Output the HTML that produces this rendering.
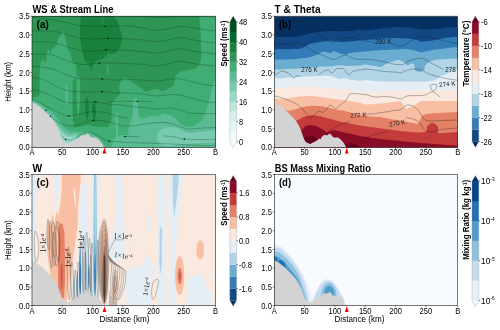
<!DOCTYPE html>
<html><head><meta charset="utf-8"><title>Cross sections</title>
<style>html,body{margin:0;padding:0;background:#fff;}svg{display:block;will-change:transform;}text{font-family:"Liberation Sans",sans-serif;fill:#000;}.t{font-size:8.6px;}.ti{font-size:11.2px;font-weight:bold;}.pl{font-size:11.2px;font-weight:bold;}.cb{font-size:8.2px;font-weight:bold;}.ax{font-size:8.4px;}.cl{font-size:5.6px;fill:#1a1a1a;}</style></head><body>
<svg width="500" height="330" viewBox="0 0 500 330">
<rect width="500" height="330" fill="#fff"/>
<defs>
<clipPath id="ca"><rect x="32.0" y="16.2" width="183.5" height="131.10000000000002"/></clipPath>
<clipPath id="cb"><rect x="274.3" y="16.2" width="183.39999999999998" height="131.10000000000002"/></clipPath>
<clipPath id="cc"><rect x="32.0" y="174.6" width="183.5" height="131.1"/></clipPath>
<clipPath id="cd"><rect x="274.3" y="174.6" width="183.39999999999998" height="131.1"/></clipPath>
</defs>
<g clip-path="url(#ca)">
<rect x="32.0" y="16.2" width="183.5" height="131.10000000000002" fill="#2d9655"/>
<rect x="30" y="14" width="188" height="135" fill="#40ad75"/>
<path d="M30,14 199,14 200,24 200.5,32 200.8,40 201.1,47.3 201.4,54.5 200.8,60.6 198.3,66.1 194.1,69.1 188,70.3 182,71.3 177.7,73.3 175.3,76.4 174.6,80 174.4,85 171,87 166,90 162,91 157,89 151,90 146,92 141,88 135,84 129,80 126,78 123,79 120.3,82.6 119,86.5 120.3,91.6 119,95.4 115.2,99.3 112.6,101.8 111.6,108 111.6,116 111,122 108,127 100,127 93,126 88,125 80,126.5 74.5,127 73,120 72.5,108 72.5,96 72.6,84 73,80 76.3,78 76.4,72 76,64.8 73.6,62.4 72,60 71.2,56 70.4,52 68.4,50.8 67.2,46 66,40.4 64.8,34.8 63.2,31.6 60.8,35.6 58.8,38 57.2,42.8 55.2,46 52.8,48.4 51.2,51.6 50.4,55 49.4,52 48.4,48.8 47.2,52 46.8,55.2 46.4,60 45.2,62.8 44,60.8 42.8,60 40.8,62.4 40,66.4 39.6,72 39.6,78 39.6,90 39.2,96 36,97.5 30,98Z" fill="#2d9655"/>
<path d="M76.8,78C77.1,74.8 78.1,75.7 78.6,76C79.1,76.3 79.7,76.8 80,80C80.3,83.2 80.3,90.3 80.2,95C80.1,99.7 79.9,104.5 79.6,108C79.3,111.5 78.6,116 78.2,116C77.8,116 77.3,111.5 77,108C76.7,104.5 76.6,100 76.6,95C76.6,90 76.5,81.2 76.8,78Z" fill="#40ad75"/>
<path d="M65.6,86C65.7,83.5 66.3,84.7 66.6,85C66.9,85.3 67.4,85.5 67.6,88C67.8,90.5 67.9,97 67.8,100C67.7,103 67.3,106 67,106C66.7,106 66.2,103.3 66,100C65.8,96.7 65.5,88.5 65.6,86Z" fill="#5abb95"/>
<path d="M81,13 80.4,24 80,32 80.4,40 81.6,48 83,55 85,61 88,63 90,67 91.6,70.4 93,65 95,62 98,60 102,59 105,57 108,53 112,54 116,53 119,49 121,44 122,38 121,32 119,26 117,21 114,17 111.6,13Z" fill="#17813d"/>
<path d="M102,15C102.2,14 103.1,14 103.3,15C103.5,16 103.3,19.4 103.2,21C103.1,22.6 102.8,24.5 102.6,24.5C102.4,24.5 102.3,22.6 102.2,21C102.1,19.4 101.8,16 102,15Z" fill="#2d9655"/>
<path d="M106.6,65C106.6,63.8 107.5,64.8 107.8,66C108.1,67.2 108.5,70.3 108.6,72C108.7,73.7 108.8,75.8 108.6,76C108.4,76.2 107.9,74.8 107.6,73C107.3,71.2 106.6,66.2 106.6,65Z" fill="#40ad75"/>
<path d="M85.4,103C85.6,100.8 86.3,96.7 86.8,96.5C87.3,96.3 88.1,99.8 88.4,102C88.7,104.2 88.8,107.5 88.8,110C88.8,112.5 88.5,115.1 88.2,117C87.9,118.9 87.5,121.7 87.2,121.5C86.9,121.3 86.5,117.9 86.2,116C85.9,114.1 85.5,112.2 85.4,110C85.3,107.8 85.2,105.2 85.4,103Z" fill="#17813d"/>
<path d="M92,107C92.3,105.1 93.2,100.7 93.8,100.5C94.4,100.3 95.2,104.1 95.6,106C96,107.9 96.1,110 96,112C95.9,114 95.5,116.4 95.2,118C94.9,119.6 94.6,121.7 94.2,121.5C93.8,121.3 93.3,118.6 93,117C92.7,115.4 92.4,113.7 92.2,112C92,110.3 91.7,108.9 92,107Z" fill="#17813d"/>
<path d="M30,99.5 36,101 42,105 48,110 51.7,111.8 56.8,117.6 60.6,122.1 64.5,127.2 68.3,130.4 72.2,131.7 76,131.7 79.8,132.3 82.4,131.7 85,132.3 87.5,131 90.1,132.3 92.6,134.2 95.2,135.5 99,138.1 101.6,140.6 104.2,144.5 105.2,147.7 30,150Z" fill="#5abb95"/>
<path d="M30,101.5 36,103.5 42,107.5 47,112 49.1,113.4 54.2,118.9 58.1,124.4 61.3,128.7 64.5,132.3 68.3,134.2 72.2,134.6 75.4,133.6 77.5,134.2 78.6,135.5 79.6,137.7 78.6,146.4 30,150Z" fill="#77c9b0"/>
<path d="M30,103 36,105 42,109 46,113 47.8,114.1 53,119.8 56.8,125.3 60,130 61.9,132.6 63.2,133.7 65.8,135.5 69.6,136.8 72.8,136.8 74.7,135.6 76,136.9 76.6,138.7 76,146.4 30,150Z" fill="#98d8c9"/>
<path d="M127,150C115,148.1 127.7,139.2 128,136C128.3,132.8 128.5,128.4 129,126C129.5,123.6 131.5,120.4 132,118C132.5,115.6 132.8,110.4 133,108C133.2,105.6 133.1,101.3 133.4,100C133.7,98.7 134.9,98 135.4,98C135.9,98 137.1,98.4 137.4,100C137.7,101.6 137.8,107.7 138,110C138.2,112.3 138.1,115.9 139,117C139.9,118.1 143.4,118.1 145,118C146.6,117.9 149.4,116.3 151,116C152.6,115.7 155.4,116.3 157,116C158.6,115.7 161.4,113.7 163,113.6C164.6,113.5 167.4,114.4 169,115C170.6,115.6 173.7,116.9 175,118C176.3,119.1 177.7,121.9 179,123C180.3,124.1 183.4,125.5 185,126C186.6,126.5 189.4,127.3 191,127C192.6,126.7 195.5,124.9 197,124C198.5,123.1 200.9,121.3 202,120C203.1,118.7 204.2,115.9 205,114C205.8,112.1 207.3,108.1 208,106C208.7,103.9 209.5,100.4 210,98C210.5,95.6 211.3,90.4 212,88C212.7,85.6 214.2,81.3 215,80C215.8,78.7 217.6,68.7 218,78C218.4,87.3 230.1,140.4 218,150C205.9,159.6 139,151.9 127,150Z" fill="#5abb95"/>
<path d="M157,139C157,137.5 157.2,134.7 158,133C158.8,131.3 160.2,130 162,129C163.8,128 166.5,127.2 169,127C171.5,126.8 174.7,127.3 177,128C179.3,128.7 180.7,130.2 183,131C185.3,131.8 188.3,132.8 191,133C193.7,133.2 196.3,132.3 199,132C201.7,131.7 203.8,131.3 207,131C210.2,130.7 216.2,128.3 218,130C219.8,131.7 220.5,138.8 218,141C215.5,143.2 207.8,142.5 203,143C198.2,143.5 193,143.7 189,144C185,144.3 182.3,144.7 179,145C175.7,145.3 171.8,146 169,146C166.2,146 163.8,145.7 162,145C160.2,144.3 158.8,143 158,142C157.2,141 157,140.5 157,139Z" fill="#77c9b0"/>
<path d="M115.6,118C115.7,114.8 116.2,113 116.6,113C117,113 117.6,114.8 117.8,118C118,121.2 118.1,128.3 118,132C117.9,135.7 117.4,140 117,140C116.6,140 116,135.7 115.8,132C115.6,128.3 115.5,121.2 115.6,118Z" fill="#5abb95"/>
<path d="M112,147.5 113,140 117,136 122,135 128,135 128,150 112,150Z" fill="#5abb95"/>
<path d="M32,17.6C34.7,17.8 42.7,18.3 48,19C53.3,19.7 58.7,20.9 64,22C69.3,23.1 73.3,24.9 80,25.6C86.7,26.3 96,26.3 104,26.4C112,26.5 121.5,25.7 128,26C134.5,26.3 138.2,27.3 143,28C147.8,28.7 152,30.4 157,30.4C162,30.4 168.7,28.7 173,28C177.3,27.3 178.7,26.2 183,26.4C187.3,26.6 193.6,28.2 199,29C204.4,29.8 212.7,30.7 215.4,31" fill="none" stroke="#0c2a14" stroke-opacity="0.75" stroke-width="0.36"/>
<path d="M32,31C34.7,31 43.7,30.8 48,31C52.3,31.2 54.7,31.3 58,32C61.3,32.7 64.3,34 68,35C71.7,36 75.7,37.3 80,38C84.3,38.7 89.3,38.9 94,39C98.7,39.1 102.3,38.4 108,38.4C113.7,38.4 122.2,38.7 128,39C133.8,39.3 138.2,39.6 143,40C147.8,40.4 152,41.8 157,41.6C162,41.4 169,39.7 173,39C177,38.3 176.7,37.3 181,37.6C185.3,37.9 193.3,40.1 199,41C204.7,41.9 212.7,42.7 215.4,43" fill="none" stroke="#0c2a14" stroke-opacity="0.75" stroke-width="0.36"/>
<path d="M32,42C34.7,42 43.7,41.7 48,42C52.3,42.3 54.7,43.2 58,44C61.3,44.8 64.3,45.9 68,47C71.7,48.1 75.7,49.7 80,50.4C84.3,51.1 89.8,51.3 94,51.2C98.2,51.1 99.3,50.1 105,50C110.7,49.9 121.7,50.1 128,50.4C134.3,50.7 138.2,51.2 143,51.6C147.8,52 152,53.3 157,53C162,52.7 169,50.7 173,50C177,49.3 176.7,48.7 181,49C185.3,49.3 193.3,51.2 199,52C204.7,52.8 212.7,53.7 215.4,54" fill="none" stroke="#0c2a14" stroke-opacity="0.75" stroke-width="0.36"/>
<path d="M32,54C34.7,54.1 43.7,53.9 48,54.4C52.3,54.9 54.7,55.9 58,57C61.3,58.1 64.7,59.8 68,61C71.3,62.2 74.7,63.4 78,64C81.3,64.6 84.5,64.6 88,64.4C91.5,64.2 95,63.2 99,63C103,62.8 107.2,62.9 112,63C116.8,63.1 122.8,63.4 128,63.6C133.2,63.8 138.2,64 143,64.4C147.8,64.8 152,66.3 157,66C162,65.7 169,63.1 173,62.4C177,61.7 176.7,61.3 181,61.6C185.3,61.9 193.3,63.7 199,64.4C204.7,65.1 212.7,65.7 215.4,66" fill="none" stroke="#0c2a14" stroke-opacity="0.75" stroke-width="0.36"/>
<path d="M32,66C34.7,66.3 43.7,67.2 48,68C52.3,68.8 54.7,69.7 58,71C61.3,72.3 64.7,74.4 68,75.6C71.3,76.8 74.7,77.8 78,78.4C81.3,79 84,78.9 88,79C92,79.1 97.3,78.8 102,79C106.7,79.2 111.7,79.9 116,80C120.3,80.1 123.5,79.6 128,79.6C132.5,79.6 138.2,79.8 143,80C147.8,80.2 152,81.2 157,81C162,80.8 169,79.3 173,79C177,78.7 177.7,78.5 181,79C184.3,79.5 188.7,81 193,82C197.3,83 203.3,84.4 207,85C210.7,85.6 214,85.5 215.4,85.6" fill="none" stroke="#0c2a14" stroke-opacity="0.75" stroke-width="0.36"/>
<path d="M32,77C34,77.5 40.3,78.7 44,80C47.7,81.3 50.7,83.4 54,85C57.3,86.6 60.7,88.5 64,89.6C67.3,90.7 70,91.2 74,91.6C78,92 83.3,92 88,92C92.7,92 97.3,91.4 102,91.6C106.7,91.8 111.7,92.8 116,93C120.3,93.2 123.5,92.8 128,93C132.5,93.2 138.2,93.5 143,94C147.8,94.5 152,95.9 157,96C162,96.1 168.7,94.4 173,94.4C177.3,94.4 179.3,95.2 183,96C186.7,96.8 191,98 195,99C199,100 203.6,101.4 207,102C210.4,102.6 214,102.3 215.4,102.4" fill="none" stroke="#0c2a14" stroke-opacity="0.75" stroke-width="0.36"/>
<path d="M32,89.6C33.7,90 38.7,90.9 42,92C45.3,93.1 48.7,94.5 52,96C55.3,97.5 58.8,99.8 62,101C65.2,102.2 67.7,102.8 71,103C74.3,103.2 77.8,102.6 82,102.4C86.2,102.2 91.7,101.7 96,102C100.3,102.3 104,103.5 108,104C112,104.5 116.7,104.7 120,105C123.3,105.3 124.2,105.6 128,106C131.8,106.4 138.2,107.1 143,107.6C147.8,108.1 152.3,108.9 157,109C161.7,109.1 166.7,107.7 171,108C175.3,108.3 180,110.2 183,111C186,111.8 185.7,112.6 189,113C192.3,113.4 198.6,113.5 203,113.6C207.4,113.7 213.3,113.6 215.4,113.6" fill="none" stroke="#0c2a14" stroke-opacity="0.75" stroke-width="0.36"/>
<path d="M32,99C33.3,99.7 37.3,101.7 40,103C42.7,104.3 45,105.4 48,107C51,108.6 54.7,110.9 58,112.4C61.3,113.9 64.7,115.7 68,116C71.3,116.3 74.7,115 78,114.4C81.3,113.8 85,112.9 88,112.4C91,111.9 92.7,111.5 96,111.6C99.3,111.7 104,112.1 108,113C112,113.9 116.7,116.2 120,117C123.3,117.8 126.7,117.8 128,118" fill="none" stroke="#0c2a14" stroke-opacity="0.75" stroke-width="0.36"/>
<path d="M49,116C50.5,117 54.8,120.3 58,122C61.2,123.7 64.7,125.5 68,126C71.3,126.5 74.7,125.8 78,125C81.3,124.2 85.3,122.3 88,121.5C90.7,120.7 91.3,120.5 94,120.4C96.7,120.3 100.7,120.6 104,121C107.3,121.4 110.8,122.2 114,123C117.2,123.8 119.5,125.6 123,126C126.5,126.4 131,126 135,125.6C139,125.2 142.3,124.1 147,123.6C151.7,123.1 158.7,122.3 163,122.4C167.3,122.5 170,123.2 173,124C176,124.8 178.3,126.2 181,127C183.7,127.8 185.3,128.8 189,129C192.7,129.2 198.6,128.2 203,128C207.4,127.8 213.3,127.7 215.4,127.6" fill="none" stroke="#0c2a14" stroke-opacity="0.75" stroke-width="0.36"/>
<path d="M61,135C61.8,135.8 64.3,138.8 66,139.6C67.7,140.4 69.3,140.3 71,140C72.7,139.7 74.2,138.6 76,137.6C77.8,136.6 80,134.9 82,134C84,133.1 85.3,131.7 88,132C90.7,132.3 94.7,134.5 98,136C101.3,137.5 104.7,140.1 108,141C111.3,141.9 114.7,141.4 118,141.6C121.3,141.8 123.8,142.2 128,142.4C132.2,142.6 137.2,142.8 143,143C148.8,143.2 156.3,143.3 163,143.6C169.7,143.9 176.3,144.3 183,144.6C189.7,144.9 197.6,145.4 203,145.6C208.4,145.8 213.3,145.6 215.4,145.6" fill="none" stroke="#0c2a14" stroke-opacity="0.75" stroke-width="0.36"/>
<path d="M32,16.2C40,16.3 64.8,16.6 80,16.6C95.2,16.6 112.5,16.2 123,16.2C133.5,16.2 136.3,16.4 143,16.6C149.7,16.8 156.3,17.5 163,17.4C169.7,17.3 174.3,16.3 183,16.2C191.7,16.1 210,16.9 215.4,17" fill="none" stroke="#0c2a14" stroke-opacity="0.75" stroke-width="0.36"/>
<path d="M109,101.6C111.3,101.5 118.3,101.2 123,101.2C127.7,101.2 132,101.4 137,101.4C142,101.4 150.3,101.4 153,101.4" fill="none" stroke="#0c2a14" stroke-opacity="0.75" stroke-width="0.36"/>
<path d="M123,136.6 139,136.6" fill="none" stroke="#0c2a14" stroke-opacity="0.75" stroke-width="0.36"/>
<path d="M163,136C164.7,136.1 169.7,136.1 173,136.6C176.3,137.1 178.7,138.5 183,139C187.3,139.5 193.6,139.5 199,139.6C204.4,139.7 212.7,139.6 215.4,139.6" fill="none" stroke="#0c2a14" stroke-opacity="0.75" stroke-width="0.36"/>
<path d="M44.7,110.4 L46.4,109.5 L46.4,111.3 Z" fill="#000"/>
<path d="M49.3,116.4 L51,115.5 L51,117.3 Z" fill="#000"/>
<path d="M104.1,26.4 L105.8,25.5 L105.8,27.3 Z" fill="#000"/>
<path d="M107.1,38.4 L108.8,37.5 L108.8,39.3 Z" fill="#000"/>
<path d="M104.6,50 L106.3,49.1 L106.3,50.9 Z" fill="#000"/>
<path d="M98.1,63 L99.8,62.1 L99.8,63.9 Z" fill="#000"/>
<path d="M101.1,79 L102.8,78.1 L102.8,79.9 Z" fill="#000"/>
<path d="M101.1,91.6 L102.8,90.7 L102.8,92.5 Z" fill="#000"/>
<path d="M94.6,102 L96.3,101.1 L96.3,102.9 Z" fill="#000"/>
<path d="M136.1,101.4 L137.8,100.5 L137.8,102.3 Z" fill="#000"/>
<path d="M67.6,116 L69.3,115.1 L69.3,116.9 Z" fill="#000"/>
<path d="M92.1,120.5 L93.8,119.6 L93.8,121.4 Z" fill="#000"/>
<path d="M64.6,139.5 L66.3,138.6 L66.3,140.4 Z" fill="#000"/>
<path d="M108.1,141.2 L109.8,140.3 L109.8,142.1 Z" fill="#000"/>
<path d="M124.1,136.6 L125.8,135.7 L125.8,137.5 Z" fill="#000"/>
<path d="M183.1,139 L184.8,138.1 L184.8,139.9 Z" fill="#000"/>
<path d="M31,149.3 32,101.7 34.5,103.3 37,104.9 39.4,106.6 41.8,108.5 44.2,110.8 46.7,113.4 50.3,117 53.9,121.1 56.6,125.7 58.8,130.7 60.6,135.9 62.2,139.9 63.6,142.1 65.8,143.3 68.2,144.1 70.1,142.7 71.9,142.1 73.7,140.9 75.5,139.7 77.3,138.4 78.5,139.3 79.2,137.2 81,135.4 82.8,134.8 84.6,135.4 86.4,134.2 87.6,133.6 88.9,134.8 90.1,136.6 92.5,137.8 94.9,137.2 97.3,138.4 99.8,140.9 101.6,143.3 103.4,146.3 103.9,147.3 103.9,149.3Z" fill="#d3d3d3"/>
</g>
<g clip-path="url(#cb)">
<rect x="274.3" y="16.2" width="183.39999999999998" height="131.10000000000002" fill="#053061"/>
<path d="M273,37C273.8,37 278,37 280,37C282,37 287.7,37.1 290,37C292.3,36.9 297.7,36.6 300,36.2C302.3,35.8 307.7,34.1 310,33.6C312.3,33.1 317.7,32.1 320,31.8C322.3,31.5 327.7,31.1 330,31C332.3,30.9 337.7,31.2 340,31.2C342.3,31.2 347.7,31.2 350,31C352.3,30.8 358.2,29.9 360,29.8C361.8,29.7 363.2,30.5 365,30.4C366.8,30.3 372.7,29.5 375,29.2C377.3,28.9 382.7,28.3 385,28C387.3,27.7 392.7,27.1 395,27C397.3,26.9 402.7,27 405,27.2C407.3,27.4 412.7,28.1 415,28.4C417.3,28.7 422.7,29.5 425,29.6C427.3,29.7 432.7,29.2 435,29C437.3,28.8 442.2,28.3 445,28C447.8,27.7 457.4,26.9 459,26.8L459.7,149.3 L272.3,149.3 Z" fill="#124984"/>
<path d="M273,49.2C273.8,49.2 278,49.2 280,49.2C282,49.2 287.7,49.2 290,49.2C292.3,49.2 298.2,49.1 300,48.8C301.8,48.5 303.8,47 305,46.4C306.2,45.8 308.2,44.5 310,44C311.8,43.5 317.7,42.4 320,42C322.3,41.6 327.7,40.8 330,40.8C332.3,40.8 337.7,41.9 340,42C342.3,42.1 347.7,41.8 350,41.6C352.3,41.4 358.2,40.4 360,40.2C361.8,40 363.2,40.1 365,40C366.8,39.9 372.7,39.4 375,39.2C377.3,39 382.7,38.7 385,38.6C387.3,38.5 392.7,38 395,38C397.3,38 402.7,38.4 405,38.6C407.3,38.8 413.1,39.2 415,39.6C416.9,40 419.8,41.4 421,41.6C422.2,41.8 423.4,41.8 425,41.6C426.6,41.4 432.7,40.4 435,40C437.3,39.6 442.2,38.4 445,38C447.8,37.6 457.4,36.6 459,36.4L459.7,149.3 L272.3,149.3 Z" fill="#327cb7"/>
<path d="M273,59.4C273.8,59.4 278,59.6 280,59.6C282,59.6 287.7,59.3 290,59.2C292.3,59.1 297.7,58.6 300,58.4C302.3,58.2 308.1,57.6 310,57.2C311.9,56.8 314.8,55.5 316,55C317.2,54.5 319.1,53.4 320,53C320.9,52.6 322.8,51.6 324,51.6C325.2,51.6 328.8,53 330,53C331.2,53 332.8,51.1 334,51.2C335.2,51.3 338.6,53.2 340,53.6C341.4,54 344.8,54.5 346,54.4C347.2,54.3 348.4,53.3 350,53C351.6,52.7 358.2,52.2 360,52C361.8,51.8 363.2,51.8 365,51.6C366.8,51.4 372.7,50.8 375,50.6C377.3,50.4 382.7,50.1 385,50C387.3,49.9 392.7,49.5 395,49.4C397.3,49.3 402.7,48.9 405,49C407.3,49.1 413.1,50 415,50.4C416.9,50.8 419.8,52.3 421,52.4C422.2,52.5 423.4,51.9 425,51.6C426.6,51.3 432.7,50 435,49.6C437.3,49.2 442.2,48.7 445,48.4C447.8,48.1 457.4,47.2 459,47L459.7,149.3 L272.3,149.3 Z" fill="#6bacd1"/>
<path d="M273,69.4C273.8,69.4 278,69.7 280,69.6C282,69.5 287.7,68.9 290,68.8C292.3,68.7 297.7,68.5 300,68.4C302.3,68.3 307.7,67.8 310,67.6C312.3,67.4 317.7,66.7 320,66.6C322.3,66.5 327.7,66.6 330,66.4C332.3,66.2 337.7,65.2 340,65.2C342.3,65.2 347.7,66 350,66C352.3,66 358.2,65.8 360,65.6C361.8,65.4 363.2,64.4 365,64.4C366.8,64.4 373.1,65.7 375,66C376.9,66.3 379.8,67.2 381,67C382.2,66.8 383.8,65 385,64.4C386.2,63.8 389.4,62.5 391,62C392.6,61.5 397.4,59.9 399,60C400.6,60.1 403.9,62.3 405,63C406.1,63.7 407.3,65.5 408,65.6C408.7,65.7 410.3,63.7 411,63.6C411.7,63.5 413.5,63.7 414,64.4C414.5,65.1 414.4,69.1 415,70C415.6,70.9 417.9,72 419,72C420.1,72 423.3,70.7 424,70C424.7,69.3 424.4,66.9 425,66C425.6,65.1 427.8,62.7 429,62C430.2,61.3 433.1,60.4 435,60C436.9,59.6 442.2,59.2 445,59C447.8,58.8 457.4,58.5 459,58.4L459.7,149.3 L272.3,149.3 Z" fill="#b1d5e7"/>
<path d="M273,78C273.8,78 278,78.4 280,78.4C282,78.4 287.7,77.8 290,77.6C292.3,77.4 297.7,77.1 300,77C302.3,76.9 307.7,76.5 310,76.4C312.3,76.3 317.7,76 320,76C322.3,76 327.7,75.7 330,76C332.3,76.3 338.1,78.8 340,79C341.9,79.2 344.8,77.9 346,78C347.2,78.1 348.4,79.2 350,79.6C351.6,79.9 358.2,81 360,81C361.8,81 363.2,80 365,80C366.8,80 372.7,80.8 375,81C377.3,81.2 382.7,81.5 385,81.6C387.3,81.7 392.7,81.6 395,81.6C397.3,81.6 402.7,81.6 405,81.6C407.3,81.6 412.7,81.6 415,81.6C417.3,81.6 422.7,81.8 425,81.6C427.3,81.4 433.1,80.7 435,80C436.9,79.3 439.8,76.6 441,76C442.2,75.4 443.8,75.5 445,75C446.2,74.5 449.4,72.7 451,72C452.6,71.3 458.1,69.3 459,69L459.7,149.3 L272.3,149.3 Z" fill="#e4eef4"/>
<path d="M273,88.4C273.8,88.4 278,88.2 280,88C282,87.8 287.7,87.2 290,87C292.3,86.8 297.7,86.6 300,86.6C302.3,86.6 307.7,86.9 310,87C312.3,87.1 317.7,87.4 320,87.6C322.3,87.8 327.7,88.2 330,88.4C332.3,88.6 337.7,88.8 340,89C342.3,89.2 347.7,90.1 350,90.4C352.3,90.8 358.2,91.7 360,92C361.8,92.3 363.2,93 365,93C366.8,93 372.7,92.2 375,92C377.3,91.8 382.7,91.1 385,91C387.3,90.9 392.7,91 395,91C397.3,91 402.7,91 405,91C407.3,91 412.7,91.1 415,91C417.3,90.9 422.7,90.5 425,90.4C427.3,90.3 432.7,90 435,90C437.3,90 442.2,90 445,90C447.8,90 457.4,89.6 459,89.6L459.7,149.3 L272.3,149.3 Z" fill="#fae9df"/>
<path d="M273,98C273.8,98.1 278,99 280,99C282,99 287.7,98.3 290,98C292.3,97.7 297.7,96.8 300,96.6C302.3,96.4 307.7,96 310,96C312.3,96 317.7,96.7 320,97C322.3,97.3 327.7,98.1 330,98.4C332.3,98.7 337.7,99.3 340,99.6C342.3,99.9 347.7,100.6 350,101C352.3,101.4 358.2,102.6 360,103C361.8,103.4 363.2,104.3 365,104.4C366.8,104.5 372.7,104.2 375,104C377.3,103.8 382.7,103.2 385,103C387.3,102.8 393.2,102.2 395,102C396.8,101.8 399.1,100.7 400,101C400.9,101.3 402.4,104.2 403,105C403.6,105.8 404.5,107.1 405,107.6C405.5,108.1 406.5,109 407,109C407.5,109 408.3,107.9 409,107.6C409.7,107.2 412.1,106.5 413,106C413.9,105.5 416.1,104.2 417,103.6C417.9,103 420.1,101.3 421,101C421.9,100.7 423.4,101 425,101C426.6,101 432.7,101 435,101C437.3,101 442.2,101 445,101C447.8,101 457.4,101 459,101L459.7,149.3 L272.3,149.3 Z" fill="#f8bfa4"/>
<path d="M272,104C272.9,104.3 278.1,106.2 280,107C281.9,107.8 287.1,110.3 288.5,110.7C289.9,111.1 291,110.4 292.1,110.1C293.2,109.8 296.8,108.7 298.2,108.3C299.6,107.9 302.8,107 304.2,106.7C305.6,106.4 308.9,106 310.3,105.9C311.7,105.8 315,105.9 316.4,105.9C317.8,105.9 321,106 322.4,106.2C323.8,106.4 327.1,107.4 328.5,107.7C329.9,108 333.2,108.9 334.5,109.2C335.8,109.5 338.2,109.7 340,110.1C341.8,110.5 347.7,111.8 350,112.4C352.3,113 357.7,114.5 360,115C362.3,115.5 367.7,116.2 370,116.4C372.3,116.6 377.7,116.7 380,117C382.3,117.3 387.7,118.6 390,119C392.3,119.4 397.7,120 400,120.4C402.3,120.8 407.9,122 410,122.4C412.1,122.8 416.8,123.9 418,123.6C419.2,123.3 419.4,121 420,120C420.6,119 421.8,115.7 423,115C424.2,114.3 428,113.8 430,113.6C432,113.4 436.6,113.2 440,113C443.4,112.8 456.8,112.1 459,112L459.7,149.3 L272.3,149.3 Z" fill="#e48066"/>
<path d="M290,116C290.8,116.5 295.8,120.1 297,120.4C298.2,120.7 299.8,119 300.6,118.6C301.4,118.2 303.2,117.1 304.2,116.8C305.2,116.5 308,115.8 309.1,115.6C310.2,115.4 312.8,115.2 313.9,115.2C315,115.2 317.7,115.7 318.8,115.9C319.9,116.1 322.5,116.9 323.6,117.2C324.7,117.5 327.4,118.3 328.5,118.6C329.6,118.9 332,119.5 333.3,119.8C334.6,120.1 338.1,121 340,121.4C341.9,121.8 347.7,122.9 350,123.4C352.3,123.9 357.7,125 360,125.4C362.3,125.8 367.7,126.7 370,127C372.3,127.3 377.7,127.9 380,128.2C382.3,128.5 387.7,129.3 390,129.6C392.3,129.9 397.7,130.7 400,131C402.3,131.3 407.7,131.8 410,132C412.3,132.2 418.1,132.5 420,132.4C421.9,132.3 425.6,132.1 426.4,131.5C427.2,130.9 426.6,127.9 427,127C427.4,126.1 428.9,124.5 429.5,124C430.1,123.5 431.7,123 432.4,123C433.1,123 434.8,123.5 435.5,124C436.2,124.5 437.7,126 438,127C438.3,128.1 437.6,132.3 438.4,133C439.2,133.7 442.6,133.1 445,133C447.4,132.9 457.4,132.1 459,132L459.7,149.3 L272.3,149.3 Z" fill="#c43b3c"/>
<path d="M299,131C299.4,130.8 301.8,130 302.4,129.5C303,129 303.6,127.6 304.2,127.1C304.8,126.6 306.4,125.9 307.3,125.6C308.2,125.3 310.4,124.8 311.5,124.9C312.6,125 315.4,125.7 316.4,126.1C317.4,126.5 319.2,127.6 320,128.1C320.8,128.6 322.8,129.6 323.6,130.1C324.4,130.6 326.1,132.2 326.7,132.4C327.3,132.6 327.9,131.8 328.5,131.6C329.1,131.4 331.2,130.7 332.1,130.6C333,130.5 334.9,130.3 335.8,130.4C336.7,130.5 338.3,131 340,131.4C341.7,131.8 347.7,133.1 350,133.6C352.3,134.1 356.5,135.4 360,136C363.5,136.6 375.3,138.4 380,139C384.7,139.6 395.3,140.5 400,141C404.7,141.5 415.3,142.6 420,143C424.7,143.4 435.4,144.1 440,144.4C444.6,144.7 456.8,145.5 459,145.6L459.7,149.3 L272.3,149.3 Z" fill="#8a0b25"/>
<path d="M304.4,139C304.6,137.7 305.3,137.5 306,137C306.7,136.5 307.5,136.2 308.5,136C309.5,135.8 310.8,135.8 312,136C313.2,136.2 314.6,136.7 315.5,137.4C316.4,138.1 317.4,138.9 317.6,140C317.8,141.1 317.6,142.8 316.5,144C315.4,145.2 312.9,146.8 311,147C309.1,147.2 306.1,146.3 305,145C303.9,143.7 304.2,140.3 304.4,139Z" fill="#67001f"/>
<path d="M342.5,148C340,147.4 343.9,145.2 345,144.4C346.1,143.6 347.5,143.1 349,143C350.5,142.9 352.5,143.1 354,143.6C355.5,144.1 357,145.3 358,146C359,146.7 362.6,147.7 360,148C357.4,148.3 345,148.6 342.5,148Z" fill="#67001f"/>
<path d="M273.6,21C274.7,20.9 279.8,20.5 282,20.4C284.2,20.3 287.9,19.9 290,20C292.1,20.1 296.1,20.7 298,21C299.9,21.3 302.4,21.2 304,22C305.6,22.8 308.4,25.7 310,27C311.6,28.3 314.4,30.7 316,32C317.6,33.3 320.4,35.8 322,37C323.6,38.2 326.4,40.3 328,41C329.6,41.7 332.4,42.5 334,42C335.6,41.5 338.9,37.3 340,37C341.1,36.7 340.9,39.9 342,40C343.1,40.1 346.4,37.9 348,37.6C349.6,37.3 352.4,37.7 354,38C355.6,38.3 357.9,39.5 360,40C362.1,40.5 368.4,41.3 370,41.6C371.6,41.9 371.4,41.9 372,42C372.6,42.1 374.3,42.3 374.6,42.4" fill="none" stroke="#1c1c1c" stroke-width="0.38" stroke-opacity="0.85"/>
<path d="M390.6,43.4C391.2,43.6 393.6,44.6 395,45C396.4,45.4 399.1,46.8 401,46.4C402.9,46 406.9,43.1 409,42C411.1,40.9 415,38.8 417,38C419,37.2 422.1,36.1 424,36C425.9,35.9 428.2,36.9 431,37.6C433.8,38.3 441.3,40.1 445,41C448.7,41.9 457.1,43.6 459,44" fill="none" stroke="#1c1c1c" stroke-width="0.38" stroke-opacity="0.85"/>
<path d="M273.6,44C275.8,44 287,44.1 290,44C293,43.9 294.1,42.9 296,43C297.9,43.1 302.1,44.2 304,45C305.9,45.8 308.4,47.9 310,49C311.6,50.1 314.4,52.2 316,53C317.6,53.8 320.4,54.4 322,55C323.6,55.6 326.4,57 328,57.6C329.6,58.2 332.4,59.7 334,59.6C335.6,59.5 338.4,57.6 340,57C341.6,56.4 344.7,55 346,55C347.3,55 348.7,56.5 350,57C351.3,57.5 354.1,58.7 356,59C357.9,59.3 362.8,59.6 364,59.6C365.2,59.6 363.5,58.9 365,59C366.5,59.1 372.3,59.6 375,60C377.7,60.4 382.3,61.4 385,62C387.7,62.6 392.6,64.1 395,64.4C397.4,64.7 401.3,64.8 403,64.4C404.7,64 406.7,62.2 408,61.6C409.3,61 411,60 413,59.6C415,59.2 420.6,57.9 423,58.4C425.4,58.9 428.9,61.9 431,63C433.1,64.1 437.3,66.1 439,67C440.7,67.9 443,69.3 443.6,69.6" fill="none" stroke="#1c1c1c" stroke-width="0.38" stroke-opacity="0.85"/>
<path d="M273.6,75.6C274.2,75.3 276.9,73.6 278,73C279.1,72.4 280.7,71 282,71C283.3,71 286.7,72.3 288,73C289.3,73.7 291.2,75.3 292,76C292.8,76.7 293.5,78.5 294,78.4C294.5,78.3 295.3,75.9 296,75.6C296.7,75.3 299.1,76.3 299.6,76.4" fill="none" stroke="#1c1c1c" stroke-width="0.38" stroke-opacity="0.85"/>
<path d="M318.8,74.4C319.1,74.2 320.3,73.5 321,73C321.7,72.5 323.1,71.4 324,71C324.9,70.6 326.9,69.7 328,70C329.1,70.3 330.9,73.1 332,73C333.1,72.9 334.9,69.6 336,69C337.1,68.4 338.9,68.4 340,68.4C341.1,68.4 343.2,68.5 344,69C344.8,69.5 345.3,71.2 346,72C346.7,72.8 348.2,75 349,75C349.8,75 350.8,72.7 352,72C353.2,71.3 356.4,70.3 358,70C359.6,69.7 363.1,69.7 364,69.6C364.9,69.5 363.5,68.9 365,69C366.5,69.1 372.3,69.7 375,70C377.7,70.3 382.3,71.3 385,71.6C387.7,71.9 392.9,71.8 395,72C397.1,72.2 399.7,73.1 401,73C402.3,72.9 403.4,71.5 405,71C406.6,70.5 410.9,69.1 413,69C415.1,68.9 418.9,69.3 421,70C423.1,70.7 426.9,73.1 429,74C431.1,74.9 435,75.9 437,76.4C439,76.9 442.4,77.7 444,78C445.6,78.3 447,78.7 449,79C451,79.3 457.7,80.2 459,80.4" fill="none" stroke="#1c1c1c" stroke-width="0.38" stroke-opacity="0.85"/>
<path d="M273.6,95.6C274.7,95.9 279.8,97.3 282,98C284.2,98.7 287.9,100.1 290,101C292.1,101.9 296.1,103.7 298,105C299.9,106.3 302.7,109.5 304,111C305.3,112.5 307.1,115.1 308,116C308.9,116.9 310.1,117.9 311,117.6C311.9,117.3 313.9,114.9 315,114C316.1,113.1 317.9,111.2 319,111C320.1,110.8 321.9,112.7 323,112.4C324.1,112.1 326.1,110 327,109C327.9,108 329.2,105.3 330,105C330.8,104.7 332.2,106.5 333,107C333.8,107.5 335.1,109.3 336,109C336.9,108.7 338.8,106.1 340,105C341.2,103.9 343.9,102.1 345,101C346.1,99.9 347.3,97.9 348,97C348.7,96.1 348.9,94.5 350,94C351.1,93.5 354.1,93.5 356,93.6C357.9,93.7 362.8,94.3 364,94.4C365.2,94.5 363.5,94.1 365,94.4C366.5,94.7 372.3,96.7 375,97C377.7,97.3 382.3,96.3 385,96.4C387.7,96.5 392.9,97.3 395,97.6C397.1,97.9 399.4,99.2 401,99C402.6,98.8 404.6,96.5 407,96C409.4,95.5 416.6,95.7 419,95.6C421.4,95.5 423.4,95.5 425,95C426.6,94.5 429.8,92.3 431,92C432.2,91.7 432.8,91.7 434,92.4C435.2,93.1 439.2,96.4 440,97" fill="none" stroke="#1c1c1c" stroke-width="0.38" stroke-opacity="0.85"/>
<path d="M431,84.8C431.7,84.5 435.5,84.1 436.2,84.4C436.9,84.7 436.8,86.3 436.6,87C436.4,87.7 435.5,89.5 435,90C434.5,90.5 433.5,91.1 433,91C432.5,90.9 431.7,89.8 431.4,89.2C431.1,88.6 430.7,87.4 430.6,86.8C430.5,86.2 430.3,85.1 431,84.8Z" fill="none" stroke="#1c1c1c" stroke-width="0.38" stroke-opacity="0.85"/>
<path d="M326.4,133.6C326.9,133.1 328.7,130.9 330,130C331.3,129.1 334.4,127.8 336,127C337.6,126.2 340.1,124.7 342,124C343.9,123.3 348.9,121.9 350,121.6" fill="none" stroke="#1c1c1c" stroke-width="0.38" stroke-opacity="0.85"/>
<path d="M363.4,114.4C364.9,114.3 372.1,113.9 375,113.6C377.9,113.3 382.3,112.4 385,112C387.7,111.6 392.9,110.7 395,110.4C397.1,110.1 399.7,110.2 401,109.6C402.3,109 404.1,106.6 405,106C405.9,105.4 406.9,105 408,105C409.1,105 411.7,105.3 413,106C414.3,106.7 416.8,108.7 418,110C419.2,111.3 421.1,114.7 422,116C422.9,117.3 424.1,119.3 425,120C425.9,120.7 426.3,120.9 429,121C431.7,121.1 441,120.5 445,120.4C449,120.3 457.1,120.1 459,120" fill="none" stroke="#1c1c1c" stroke-width="0.38" stroke-opacity="0.85"/>
<path d="M361,139.6C361.5,139.3 364.5,137.8 365,137.6C365.5,137.4 363.9,138.3 365,138C366.1,137.7 370.9,135.7 373,135C375.1,134.3 379.1,133.5 381,133C382.9,132.5 386.5,131.4 387.4,131.2" fill="none" stroke="#1c1c1c" stroke-width="0.38" stroke-opacity="0.85"/>
<path d="M406,117.6C406.9,117.8 411.3,118.4 413,119C414.7,119.6 417.7,120.8 419,122C420.3,123.2 422.1,126.8 423,128C423.9,129.2 424.7,130.5 426,131C427.3,131.5 431.4,132.1 433,132C434.6,131.9 436.4,130.4 438,130C439.6,129.6 442.2,129.3 445,129C447.8,128.7 457.1,128.1 459,128" fill="none" stroke="#1c1c1c" stroke-width="0.38" stroke-opacity="0.85"/>
<text transform="translate(383.3,44.4) rotate(0)" class="cl" style="font-size:6.3px" text-anchor="middle">280 K</text>
<text transform="translate(450.5,72.2) rotate(0)" class="cl" style="font-size:6.3px" text-anchor="middle">278</text>
<text transform="translate(309.5,72.4) rotate(0)" class="cl" style="font-size:6.3px" text-anchor="middle">276 K</text>
<text transform="translate(447.5,86.2) rotate(-6)" class="cl" style="font-size:6.3px" text-anchor="middle">274 K</text>
<text transform="translate(358.6,117.2) rotate(-4)" class="cl" style="font-size:6.3px" text-anchor="middle">272 K</text>
<text transform="translate(397.6,125.2) rotate(-10)" class="cl" style="font-size:6.3px" text-anchor="middle">270 K</text>
<path d="M273.3,149.3 274.3,101.7 276.8,103.3 279.3,104.9 281.7,106.6 284.1,108.5 286.5,110.8 289,113.4 292.6,117 296.2,121.1 298.9,125.7 301.1,130.7 302.9,135.9 304.5,139.9 305.9,142.1 308.1,143.3 310.5,144.1 312.4,142.7 314.2,142.1 316,140.9 317.8,139.7 319.6,138.4 320.8,139.3 321.5,137.2 323.3,135.4 325.1,134.8 326.9,135.4 328.7,134.2 329.9,133.6 331.2,134.8 332.4,136.6 334.8,137.8 337.2,137.2 339.6,138.4 342.1,140.9 343.9,143.3 345.7,146.3 346.2,147.3 346.2,149.3Z" fill="#d3d3d3"/>
</g>
<g clip-path="url(#cc)">
<rect x="32.0" y="174.6" width="183.5" height="131.1" fill="#fae9df"/>
<path d="M31,173 38,173 37.2,191 36.4,211 35.6,237 35,262 31,262Z" fill="#e4eef4"/>
<path d="M53,173 60,173 59.6,183 58.4,195 57.2,205 56.2,209.4 55.2,205 54,193 53.2,183Z" fill="#e4eef4"/>
<path d="M115.3,173 121.7,173 122.5,195 124.5,225 125,245 124,256 120,261 113,260 109,256 108,248 111,236 114.6,225 115.2,200Z" fill="#e4eef4"/>
<path d="M81,186 84,183 87,186 88,200 88.5,230 90,260 91,300 78,300 78,270 79,240 79.6,210Z" fill="#e4eef4"/>
<path d="M91.6,173 99,173 98.6,200 98.4,230 98,260 98,300 90,300 90.5,260 91,230 91.4,200Z" fill="#e4eef4"/>
<path d="M158.6,173 157.8,187 157.4,201 157,221 157.4,237 157.4,239 157,259 157.4,285 158,285 158.2,305.4 165.8,305.4 166,285 166,285 166,259 165.4,239 164.6,237 166,221 166.6,201 166.2,187 165.4,173Z" fill="#e4eef4"/>
<path d="M169.4,173 168.6,201 169,221 170,237 170.2,239 170.6,259 169.8,285 169,285 169,305.4 175.4,305.4 175.4,285 175.4,285 175.4,259 176.6,239 177,237 177.4,227 179,211 181,191 183,173Z" fill="#e4eef4"/>
<path d="M172.6,173 179,173 178,187 176,205 174,217.4 173,205 172.6,187Z" fill="#b1d5e7"/>
<path d="M159.8,229C160,225.3 160.3,226.7 160.6,227C160.9,227.3 161.4,227.3 161.6,231C161.8,234.7 161.8,243.3 161.8,249C161.8,254.7 161.6,260.9 161.4,265C161.2,269.1 160.9,273.4 160.6,273.4C160.3,273.4 160,269.1 159.8,265C159.6,260.9 159.6,255 159.6,249C159.6,243 159.6,232.7 159.8,229Z" fill="#b1d5e7"/>
<path d="M159.6,255C159.9,253.3 161.1,253.7 161.4,255C161.7,256.3 161.7,260.3 161.6,263C161.5,265.7 161.2,269.3 161,271C160.8,272.7 160.4,274 160.2,273C160,272 159.7,268 159.6,265C159.5,262 159.3,256.7 159.6,255Z" fill="#b1d5e7"/>
<path d="M160.2,230C160.4,228.4 161.1,228.4 161.4,228.6C161.7,228.8 162.1,229.4 162.2,231C162.3,232.6 162.3,236.8 162,238C161.7,239.2 160.5,239.3 160.2,238C159.9,236.7 160,231.6 160.2,230Z" fill="#b1d5e7"/>
<path d="M147.4,214C147.5,211.4 147.9,213.2 148.2,213.4C148.5,213.6 148.9,212.4 149,215C149.1,217.6 149.1,225.9 149,229C148.9,232.1 148.5,233.4 148.2,233.4C147.9,233.4 147.5,232.2 147.4,229C147.3,225.8 147.3,216.6 147.4,214Z" fill="#e4eef4"/>
<path d="M133,238C133.2,236.8 133.7,236.6 134,236.6C134.3,236.6 134.8,236.8 135,238C135.2,239.2 135.2,242.6 135,244C134.8,245.4 134.3,246.4 134,246.4C133.7,246.4 133.2,245.4 133,244C132.8,242.6 132.8,239.2 133,238Z" fill="#e4eef4"/>
<path d="M125.8,271.4 127.4,269 132,267.4 137,267.6 142,265 145,259.4 148,252.6 150,259 153,266.6 154.6,271.4 153,276 151.4,282 151,307 126,307 125.6,285Z" fill="#e4eef4"/>
<path d="M187,305.4 187.4,285 189,276 195,274.6 203,275.4 205.4,283 208,289.4 211,292 211,305.4Z" fill="#e4eef4"/>
<path d="M207,277.4C207.1,276.9 208.3,276.6 209,276.6C209.7,276.6 210.7,277 211,277.4C211.3,277.8 211,278.7 210.6,279C210.2,279.3 209.2,279.7 208.6,279.4C208,279.1 206.9,277.9 207,277.4Z" fill="#e4eef4"/>
<path d="M62,173 61.6,191 60,207 58,216 56.4,211 54.4,223.4 52.4,213 50,227.4 48,219 46.4,238 47,239 47.2,251 48,259 50,271 50,290 66,303 67,298 68,289 69,275 70,285 71,271 73,259 75,245 77,231 78,219 77.2,219 78,212 78.6,201 79.6,191 80.4,183 81,173Z" fill="#f8bfa4"/>
<path d="M73.4,190.2C73.4,188.6 74.1,187.8 74.4,188.6C74.7,189.4 75.1,192.6 75.4,195C75.7,197.4 75.9,200.7 76,203C76.1,205.3 76.3,208.6 76.2,209C76.1,209.4 75.5,207.2 75.2,205.4C74.9,203.6 74.5,200.5 74.2,198C73.9,195.5 73.4,191.8 73.4,190.2Z" fill="#fae9df"/>
<path d="M58.4,228 60,223 62.5,224 64.4,232 65,255 65,280 64,298 58,298 58,280 58,255Z" fill="#e48066"/>
<path d="M60.6,268C60.8,265.8 61.2,263 61.5,263C61.8,263 62.4,265.8 62.6,268C62.8,270.2 62.8,273 62.8,276C62.8,279 62.5,283.7 62.3,286C62.1,288.3 61.8,290.3 61.5,290C61.2,289.7 61,286.3 60.8,284C60.6,281.7 60.5,278.7 60.5,276C60.5,273.3 60.4,270.2 60.6,268Z" fill="#d4574a"/>
<path d="M80.2,246C80.1,247.1 79.7,250.2 79.5,252.4C79.4,254.5 79.3,256.6 79.2,258.8C79.1,260.9 79.1,263 79.1,265.1C79,267.2 79,269.4 79,271.5C79,273.6 79,275.8 79.1,277.9C79.1,280 79.1,282.1 79.2,284.2C79.3,286.4 79.4,288.5 79.5,290.6C79.7,292.8 80.1,295.9 80.2,297C80.3,298.1 80.1,298.1 80.2,297C80.3,295.9 80.7,292.8 80.9,290.6C81,288.5 81.1,286.4 81.2,284.2C81.3,282.1 81.3,280 81.3,277.9C81.4,275.8 81.4,273.6 81.4,271.5C81.4,269.4 81.4,267.2 81.3,265.1C81.3,263 81.3,260.9 81.2,258.8C81.1,256.6 81,254.5 80.9,252.4C80.7,250.2 80.3,247.1 80.2,246C80.1,244.9 80.3,244.9 80.2,246Z" fill="#6bacd1"/>
<path d="M80.4,262C80.3,262.7 80.1,264.7 80,266C79.9,267.3 79.9,268.7 79.8,270C79.8,271.3 79.8,272.7 79.7,274C79.7,275.3 79.7,276.7 79.7,278C79.7,279.3 79.7,280.7 79.7,282C79.8,283.3 79.8,284.7 79.8,286C79.9,287.3 79.9,288.7 80,290C80.1,291.3 80.3,293.3 80.4,294C80.5,294.7 80.3,294.7 80.4,294C80.5,293.3 80.7,291.3 80.8,290C80.9,288.7 80.9,287.3 81,286C81,284.7 81,283.3 81.1,282C81.1,280.7 81.1,279.3 81.1,278C81.1,276.7 81.1,275.3 81.1,274C81,272.7 81,271.3 81,270C80.9,268.7 80.9,267.3 80.8,266C80.7,264.7 80.5,262.7 80.4,262C80.3,261.3 80.5,261.3 80.4,262Z" fill="#327cb7"/>
<path d="M74,275C73.9,275.6 73.5,277.2 73.3,278.4C73.2,279.5 73.1,280.6 73,281.8C72.9,282.9 72.9,284 72.9,285.1C72.8,286.2 72.8,287.4 72.8,288.5C72.8,289.6 72.8,290.8 72.9,291.9C72.9,293 72.9,294.1 73,295.2C73.1,296.4 73.2,297.5 73.3,298.6C73.5,299.8 73.9,301.4 74,302C74.1,302.6 73.9,302.6 74,302C74.1,301.4 74.5,299.8 74.7,298.6C74.8,297.5 74.9,296.4 75,295.2C75.1,294.1 75.1,293 75.1,291.9C75.2,290.8 75.2,289.6 75.2,288.5C75.2,287.4 75.2,286.2 75.1,285.1C75.1,284 75.1,282.9 75,281.8C74.9,280.6 74.8,279.5 74.7,278.4C74.5,277.2 74.1,275.6 74,275C73.9,274.4 74.1,274.4 74,275Z" fill="#b1d5e7"/>
<path d="M77.4,270C77.3,270.6 77,272.5 76.9,273.8C76.8,275 76.7,276.2 76.7,277.5C76.6,278.8 76.6,280 76.5,281.2C76.5,282.5 76.5,283.8 76.5,285C76.5,286.2 76.5,287.5 76.5,288.8C76.6,290 76.6,291.2 76.7,292.5C76.7,293.8 76.8,295 76.9,296.2C77,297.5 77.3,299.4 77.4,300C77.5,300.6 77.3,300.6 77.4,300C77.5,299.4 77.8,297.5 77.9,296.2C78,295 78.1,293.8 78.1,292.5C78.2,291.2 78.2,290 78.3,288.8C78.3,287.5 78.3,286.2 78.3,285C78.3,283.8 78.3,282.5 78.3,281.2C78.2,280 78.2,278.8 78.1,277.5C78.1,276.2 78,275 77.9,273.8C77.8,272.5 77.5,270.6 77.4,270C77.3,269.4 77.5,269.4 77.4,270Z" fill="#6bacd1"/>
<path d="M89,264C88.9,264.5 88.5,266.2 88.4,267.2C88.2,268.3 88.2,269.4 88.1,270.5C88,271.6 88,272.7 88,273.8C87.9,274.8 87.9,275.9 87.9,277C87.9,278.1 87.9,279.2 88,280.2C88,281.3 88,282.4 88.1,283.5C88.2,284.6 88.2,285.7 88.4,286.8C88.5,287.8 88.9,289.5 89,290C89.1,290.5 88.9,290.5 89,290C89.1,289.5 89.5,287.8 89.6,286.8C89.8,285.7 89.8,284.6 89.9,283.5C90,282.4 90,281.3 90,280.2C90.1,279.2 90.1,278.1 90.1,277C90.1,275.9 90.1,274.8 90,273.8C90,272.7 90,271.6 89.9,270.5C89.8,269.4 89.8,268.3 89.6,267.2C89.5,266.2 89.1,264.5 89,264C88.9,263.5 89.1,263.5 89,264Z" fill="#6bacd1"/>
<path d="M86.2,250C86.1,250.9 85.9,253.5 85.8,255.2C85.6,257 85.6,258.8 85.6,260.5C85.5,262.2 85.5,264 85.4,265.8C85.4,267.5 85.4,269.2 85.4,271C85.4,272.8 85.4,274.5 85.4,276.2C85.5,278 85.5,279.8 85.6,281.5C85.6,283.2 85.6,285 85.8,286.8C85.9,288.5 86.1,291.1 86.2,292C86.3,292.9 86.1,292.9 86.2,292C86.3,291.1 86.5,288.5 86.6,286.8C86.8,285 86.8,283.2 86.8,281.5C86.9,279.8 86.9,278 87,276.2C87,274.5 87,272.8 87,271C87,269.2 87,267.5 87,265.8C86.9,264 86.9,262.2 86.8,260.5C86.8,258.8 86.8,257 86.6,255.2C86.5,253.5 86.3,250.9 86.2,250C86.1,249.1 86.3,249.1 86.2,250Z" fill="#b1d5e7"/>
<path d="M83.6,252C83.5,252.9 83.3,255.7 83.2,257.5C83,259.3 83,261.2 83,263C82.9,264.8 82.9,266.7 82.8,268.5C82.8,270.3 82.8,272.2 82.8,274C82.8,275.8 82.8,277.7 82.8,279.5C82.9,281.3 82.9,283.2 83,285C83,286.8 83,288.7 83.2,290.5C83.3,292.3 83.5,295.1 83.6,296C83.7,296.9 83.5,296.9 83.6,296C83.7,295.1 83.9,292.3 84,290.5C84.2,288.7 84.2,286.8 84.2,285C84.3,283.2 84.3,281.3 84.4,279.5C84.4,277.7 84.4,275.8 84.4,274C84.4,272.2 84.4,270.3 84.4,268.5C84.3,266.7 84.3,264.8 84.2,263C84.2,261.2 84.2,259.3 84,257.5C83.9,255.7 83.7,252.9 83.6,252C83.5,251.1 83.7,251.1 83.6,252Z" fill="#b1d5e7"/>
<path d="M94,173 96.2,173 96.4,200 96.6,240 96.4,275 95.6,296 94.6,296 93.8,275 93.6,240 93.8,200Z" fill="#6bacd1"/>
<path d="M94.4,173 95.8,173 96,200 96,235 95.2,255 94.4,235 94.2,200Z" fill="#b1d5e7"/>
<path d="M95,255C94.9,255.9 94.7,258.4 94.6,260.1C94.4,261.8 94.4,263.5 94.4,265.2C94.3,267 94.3,268.7 94.2,270.4C94.2,272.1 94.2,273.8 94.2,275.5C94.2,277.2 94.2,278.9 94.2,280.6C94.3,282.3 94.3,284 94.4,285.8C94.4,287.5 94.4,289.2 94.6,290.9C94.7,292.6 94.9,295.1 95,296C95.1,296.9 94.9,296.9 95,296C95.1,295.1 95.3,292.6 95.4,290.9C95.6,289.2 95.6,287.5 95.6,285.8C95.7,284 95.7,282.3 95.8,280.6C95.8,278.9 95.8,277.2 95.8,275.5C95.8,273.8 95.8,272.1 95.8,270.4C95.7,268.7 95.7,267 95.6,265.2C95.6,263.5 95.6,261.8 95.4,260.1C95.3,258.4 95.1,255.9 95,255C94.9,254.1 95.1,254.1 95,255Z" fill="#327cb7"/>
<path d="M100.2,262C100.1,254 100.6,246 101,240C101.4,234 102.1,229.2 102.6,226C103.1,222.8 103.5,220.8 104,221C104.5,221.2 105.1,223.5 105.6,227C106.1,230.5 106.7,236.2 107,242C107.3,247.8 107.5,254.8 107.4,262C107.3,269.2 107,278.3 106.6,285C106.2,291.7 105.5,299.2 105,302C104.5,304.8 104,304.3 103.4,302C102.8,299.7 101.9,294.7 101.4,288C100.9,281.3 100.3,270 100.2,262Z" fill="#f8bfa4"/>
<path d="M115,272C114.9,272.5 114.3,274 114.1,275C113.9,276 113.8,277 113.7,278C113.6,279 113.5,280 113.5,281C113.4,282 113.4,283 113.4,284C113.4,285 113.4,286 113.5,287C113.5,288 113.6,289 113.7,290C113.8,291 113.9,292 114.1,293C114.3,294 114.9,295.5 115,296C115.1,296.5 114.9,296.5 115,296C115.1,295.5 115.7,294 115.9,293C116.1,292 116.2,291 116.3,290C116.4,289 116.5,288 116.5,287C116.6,286 116.6,285 116.6,284C116.6,283 116.6,282 116.5,281C116.5,280 116.4,279 116.3,278C116.2,277 116.1,276 115.9,275C115.7,274 115.1,272.5 115,272C114.9,271.5 115.1,271.5 115,272Z" fill="#f8bfa4"/>
<path d="M113.4,286C113.3,286.4 113,287.5 112.8,288.2C112.7,289 112.7,289.8 112.6,290.5C112.5,291.2 112.5,292 112.4,292.8C112.4,293.5 112.4,294.2 112.4,295C112.4,295.8 112.4,296.5 112.4,297.2C112.5,298 112.5,298.8 112.6,299.5C112.7,300.2 112.7,301 112.8,301.8C113,302.5 113.3,303.6 113.4,304C113.5,304.4 113.3,304.4 113.4,304C113.5,303.6 113.8,302.5 114,301.8C114.1,301 114.1,300.2 114.2,299.5C114.3,298.8 114.3,298 114.4,297.2C114.4,296.5 114.4,295.8 114.4,295C114.4,294.2 114.4,293.5 114.4,292.8C114.3,292 114.3,291.2 114.2,290.5C114.1,289.8 114.1,289 114,288.2C113.8,287.5 113.5,286.4 113.4,286C113.3,285.6 113.5,285.6 113.4,286Z" fill="#f8bfa4"/>
<ellipse cx="179.6" cy="275.5" rx="4.6" ry="19.5" fill="#f8bfa4"/>
<ellipse cx="179.7" cy="276" rx="2.3" ry="8.6" fill="#e48066"/>
<ellipse cx="179.8" cy="276.5" rx="0.9" ry="4.2" fill="#d4574a"/>
<ellipse cx="200.2" cy="250" rx="3.9" ry="9.8" fill="#f8bfa4"/>
<path d="M104.2,219C103.2,219 101.7,224.7 100.9,227.6C100.1,230.4 99.8,233.2 99.4,236.1C98.9,238.9 98.6,241.8 98.4,244.7C98.1,247.5 97.9,250.3 97.8,253.2C97.7,256.1 97.6,258.9 97.6,261.8C97.6,264.6 97.7,267.4 97.8,270.3C98,273.2 98.2,276 98.4,278.9C98.7,281.7 99,284.5 99.5,287.4C99.9,290.2 100.2,293.1 101.1,295.9C101.9,298.8 103.4,304.5 104.4,304.5C105.4,304.5 106.3,298.8 106.8,295.9C107.4,293.1 107.5,290.2 107.7,287.4C107.9,284.5 108.1,281.7 108.2,278.9C108.4,276 108.5,273.2 108.5,270.3C108.6,267.4 108.6,264.6 108.6,261.8C108.6,258.9 108.6,256.1 108.5,253.2C108.4,250.3 108.3,247.5 108.1,244.7C108,241.8 107.8,238.9 107.6,236.1C107.3,233.2 107.2,230.4 106.7,227.6C106.1,224.7 105.2,219 104.2,219Z" fill="none" stroke="#3d3530" stroke-width="0.38" stroke-opacity="0.8"/>
<path d="M104.2,222C103.4,222 102.1,227.4 101.4,230.1C100.7,232.8 100.4,235.5 100,238.2C99.7,240.9 99.4,243.6 99.2,246.3C98.9,249 98.8,251.7 98.7,254.4C98.6,257.1 98.5,259.8 98.5,262.4C98.5,265.1 98.6,267.8 98.7,270.5C98.8,273.2 99,275.9 99.3,278.6C99.5,281.3 99.8,284 100.2,286.7C100.5,289.4 100.8,292.1 101.5,294.8C102.2,297.5 103.6,302.9 104.4,302.9C105.2,302.9 106,297.5 106.5,294.8C106.9,292.1 107,289.4 107.2,286.7C107.4,284 107.5,281.3 107.6,278.6C107.7,275.9 107.8,273.2 107.9,270.5C107.9,267.8 107.9,265.1 107.9,262.4C107.9,259.8 107.9,257.1 107.8,254.4C107.8,251.7 107.7,249 107.5,246.3C107.4,243.6 107.3,240.9 107.1,238.2C106.9,235.5 106.8,232.8 106.3,230.1C105.8,227.4 105,222 104.2,222Z" fill="none" stroke="#3d3530" stroke-width="0.38" stroke-opacity="0.8"/>
<path d="M104.2,225.5C103.5,225.5 102.4,230.6 101.8,233.1C101.3,235.6 101,238.1 100.7,240.7C100.4,243.2 100.2,245.7 100,248.2C99.8,250.8 99.7,253.3 99.6,255.8C99.5,258.3 99.4,260.9 99.5,263.4C99.5,265.9 99.5,268.5 99.6,271C99.7,273.5 99.9,276 100.1,278.6C100.3,281.1 100.5,283.6 100.8,286.1C101.2,288.7 101.4,291.2 102,293.7C102.6,296.2 103.7,301.3 104.4,301.3C105.1,301.3 105.7,296.2 106.1,293.7C106.5,291.2 106.5,288.7 106.7,286.1C106.8,283.6 106.9,281.1 107,278.6C107.1,276 107.2,273.5 107.2,271C107.2,268.5 107.3,265.9 107.3,263.4C107.2,260.9 107.2,258.3 107.2,255.8C107.1,253.3 107,250.8 106.9,248.2C106.8,245.7 106.7,243.2 106.5,240.7C106.4,238.1 106.3,235.6 105.9,233.1C105.5,230.6 104.9,225.5 104.2,225.5Z" fill="none" stroke="#3d3530" stroke-width="0.38" stroke-opacity="0.8"/>
<path d="M104.2,229.5C103.6,229.5 102.7,234.2 102.2,236.5C101.8,238.9 101.6,241.2 101.3,243.6C101.1,245.9 100.9,248.3 100.7,250.6C100.6,253 100.4,255.3 100.4,257.7C100.3,260 100.3,262.4 100.3,264.7C100.3,267 100.3,269.4 100.4,271.7C100.5,274.1 100.6,276.4 100.8,278.8C101,281.1 101.2,283.5 101.4,285.8C101.7,288.2 101.9,290.5 102.4,292.9C102.9,295.2 103.8,299.9 104.4,299.9C105,299.9 105.5,295.2 105.8,292.9C106.1,290.5 106.1,288.2 106.2,285.8C106.3,283.5 106.4,281.1 106.5,278.8C106.6,276.4 106.6,274.1 106.6,271.7C106.7,269.4 106.7,267 106.7,264.7C106.7,262.4 106.6,260 106.6,257.7C106.6,255.3 106.5,253 106.4,250.6C106.3,248.3 106.2,245.9 106.1,243.6C106,241.2 105.9,238.9 105.6,236.5C105.3,234.2 104.8,229.5 104.2,229.5Z" fill="none" stroke="#3d3530" stroke-width="0.38" stroke-opacity="0.8"/>
<path d="M104.2,234C103.8,234 103,238.3 102.7,240.4C102.3,242.6 102.1,244.8 101.9,246.9C101.7,249.1 101.6,251.2 101.4,253.3C101.3,255.5 101.2,257.7 101.2,259.8C101.1,261.9 101.1,264.1 101.1,266.2C101.1,268.4 101.1,270.6 101.2,272.7C101.3,274.8 101.4,277 101.5,279.1C101.6,281.3 101.8,283.5 102,285.6C102.2,287.8 102.4,289.9 102.8,292.1C103.2,294.2 104,298.5 104.4,298.5C104.8,298.5 105.2,294.2 105.4,292.1C105.7,289.9 105.7,287.8 105.8,285.6C105.9,283.5 105.9,281.3 106,279.1C106,277 106,274.8 106.1,272.7C106.1,270.6 106.1,268.4 106.1,266.2C106.1,264.1 106.1,261.9 106,259.8C106,257.7 105.9,255.5 105.9,253.3C105.8,251.2 105.7,249.1 105.6,246.9C105.5,244.8 105.5,242.6 105.3,240.4C105,238.3 104.6,234 104.2,234Z" fill="none" stroke="#3d3530" stroke-width="0.38" stroke-opacity="0.8"/>
<path d="M104.2,239.5C103.9,239.5 103.3,243.3 103.1,245.3C102.8,247.2 102.7,249.1 102.5,251C102.4,252.9 102.2,254.9 102.1,256.8C102.1,258.7 102,260.6 101.9,262.5C101.9,264.5 101.9,266.4 101.9,268.3C101.9,270.2 101.9,272.1 102,274.1C102,276 102.1,277.9 102.2,279.8C102.3,281.7 102.5,283.7 102.6,285.6C102.8,287.5 102.9,289.4 103.2,291.3C103.5,293.3 104.1,297.1 104.4,297.1C104.7,297.1 105,293.3 105.1,291.3C105.3,289.4 105.3,287.5 105.3,285.6C105.4,283.7 105.4,281.7 105.4,279.8C105.5,277.9 105.5,276 105.5,274.1C105.5,272.1 105.5,270.2 105.5,268.3C105.5,266.4 105.5,264.5 105.4,262.5C105.4,260.6 105.4,258.7 105.4,256.8C105.3,254.9 105.3,252.9 105.2,251C105.1,249.1 105.1,247.2 104.9,245.3C104.8,243.3 104.5,239.5 104.2,239.5Z" fill="none" stroke="#3d3530" stroke-width="0.38" stroke-opacity="0.8"/>
<path d="M104.2,246C104,246 103.6,249.3 103.4,251C103.2,252.7 103.1,254.3 103,256C102.9,257.6 102.8,259.3 102.8,261C102.7,262.6 102.7,264.3 102.6,266C102.6,267.6 102.6,269.3 102.6,270.9C102.6,272.6 102.6,274.3 102.7,275.9C102.7,277.6 102.8,279.3 102.8,280.9C102.9,282.6 103,284.3 103.1,285.9C103.3,287.6 103.4,289.2 103.6,290.9C103.8,292.6 104.2,295.9 104.4,295.9C104.6,295.9 104.7,292.6 104.8,290.9C104.9,289.2 104.9,287.6 104.9,285.9C105,284.3 105,282.6 105,280.9C105,279.3 105,277.6 105,275.9C105,274.3 105,272.6 105,270.9C105,269.3 105,267.6 105,266C104.9,264.3 104.9,262.6 104.9,261C104.9,259.3 104.8,257.6 104.8,256C104.8,254.3 104.8,252.7 104.7,251C104.6,249.3 104.4,246 104.2,246Z" fill="none" stroke="#3d3530" stroke-width="0.38" stroke-opacity="0.8"/>
<path d="M104.2,254C104.1,254 103.9,256.7 103.8,258.1C103.6,259.4 103.6,260.8 103.5,262.1C103.5,263.5 103.4,264.9 103.4,266.2C103.3,267.6 103.3,268.9 103.3,270.3C103.3,271.6 103.3,273 103.3,274.4C103.3,275.7 103.3,277.1 103.3,278.4C103.4,279.8 103.4,281.1 103.5,282.5C103.5,283.8 103.6,285.2 103.6,286.6C103.7,287.9 103.8,289.3 103.9,290.6C104,292 104.3,294.7 104.4,294.7C104.5,294.7 104.5,292 104.5,290.6C104.6,289.3 104.5,287.9 104.5,286.6C104.5,285.2 104.5,283.8 104.5,282.5C104.5,281.1 104.5,279.8 104.5,278.4C104.5,277.1 104.5,275.7 104.5,274.4C104.5,273 104.5,271.6 104.5,270.3C104.5,268.9 104.5,267.6 104.4,266.2C104.4,264.9 104.4,263.5 104.4,262.1C104.4,260.8 104.4,259.4 104.4,258.1C104.3,256.7 104.3,254 104.2,254Z" fill="none" stroke="#3d3530" stroke-width="0.38" stroke-opacity="0.8"/>
<path d="M104.2,248 C102.2,262 101.6,280 104.3,304 C106.4,285 106.4,262 104.2,248Z" fill="#3c2a20" fill-opacity="0.5"/>
<path d="M104.6,256C104.6,259.2 104.5,267.2 104.5,275C104.5,282.8 104.4,298.3 104.4,303" fill="none" stroke="#2a2420" stroke-width="0.7" stroke-opacity="0.8"/>
<path d="M108.1,253.2 L114.5,239.8 L123.4,239.8" fill="none" stroke="#4b4b4b" stroke-width="0.35"/>
<path d="M107.6,254.5C107.9,254.9 108.7,255.4 109.3,257C109.9,258.6 110.9,261.8 111.3,264.2C111.6,266.8 111.5,269.5 111.4,272C111.3,274.5 110.5,276.7 110.5,279C110.4,281.3 111.3,283.5 111.1,286C110.9,288.5 109.7,291.8 109.4,294C109.2,296.2 109.6,297 109.6,299C109.6,301 109.3,304.8 109.2,306" fill="none" stroke="#3a3a3a" stroke-width="0.36" stroke-opacity="0.85"/>
<path d="M107.8,255.4C108.3,255.9 109.4,256.6 110.3,258.2C111.1,259.8 112.5,262.7 113,265.1C113.5,267.5 113.3,270.4 113.2,272.8C113.1,275.2 112.4,277.5 112.3,279.8C112.2,282.1 112.8,284.3 112.6,286.8C112.3,289.3 111.1,292.8 110.7,294.8C110.4,296.8 110.7,297.1 110.7,299C110.6,300.9 110.3,304.8 110.2,306" fill="none" stroke="#3a3a3a" stroke-width="0.36" stroke-opacity="0.85"/>
<path d="M108.1,256.3C108.6,256.8 110.2,257.8 111.3,259.4C112.4,261 114.3,263.6 115,266C115.6,268.3 115.3,271.2 115.2,273.6C115.1,276 114.5,278.3 114.3,280.6C114.2,282.9 114.6,285.1 114.2,287.6C113.8,290.1 112.5,293.7 112.1,295.6C111.7,297.5 111.8,297.3 111.7,299C111.6,300.7 111.4,304.8 111.3,306" fill="none" stroke="#3a3a3a" stroke-width="0.36" stroke-opacity="0.85"/>
<path d="M108.3,257.2C109,257.8 111,259 112.4,260.6C113.9,262.2 116.3,264.5 117.1,266.8C117.9,269.1 117.5,272 117.4,274.4C117.3,276.8 116.8,279.1 116.6,281.4C116.3,283.7 116.5,285.9 115.9,288.4C115.4,290.9 114.1,294.6 113.6,296.4C113,298.2 113,297.4 112.8,299C112.6,300.6 112.4,304.8 112.4,306" fill="none" stroke="#3a3a3a" stroke-width="0.36" stroke-opacity="0.85"/>
<path d="M108.6,258.1C109.4,258.7 111.8,260.2 113.5,261.8C115.3,263.4 118.3,265.4 119.3,267.6C120.3,269.9 119.7,272.8 119.6,275.2C119.5,277.6 119.1,279.9 118.8,282.2C118.5,284.5 118.3,286.7 117.7,289.2C117.1,291.7 115.6,295.6 115,297.2C114.3,298.8 114.1,297.5 113.8,299C113.5,300.5 113.5,304.8 113.4,306" fill="none" stroke="#3a3a3a" stroke-width="0.36" stroke-opacity="0.85"/>
<path d="M108.8,259C109.8,259.7 112.6,261.4 114.7,263C116.8,264.6 120.2,266.3 121.4,268.5C122.6,270.7 121.9,273.6 121.8,276C121.7,278.4 121.5,280.7 121.1,283C120.7,285.3 120.2,287.5 119.5,290C118.7,292.5 117.2,296.5 116.4,298C115.7,299.5 115.2,297.7 114.9,299C114.5,300.3 114.5,304.8 114.5,306" fill="none" stroke="#3a3a3a" stroke-width="0.36" stroke-opacity="0.85"/>
<path d="M109.1,259.9C110.2,260.6 113.3,262.6 115.7,264.2C118.1,265.8 122,267.2 123.4,269.4C124.7,271.5 123.8,274.4 123.8,276.8C123.8,279.2 123.6,281.5 123.1,283.8C122.7,286.1 122,288.3 121.1,290.8C120.2,293.3 118.7,297.4 117.8,298.8C116.9,300.2 116.3,297.8 115.9,299C115.5,300.2 115.6,304.8 115.5,306" fill="none" stroke="#3a3a3a" stroke-width="0.36" stroke-opacity="0.85"/>
<path d="M109.3,260.8C110.6,261.6 114,263.8 116.7,265.4C119.3,267 123.6,268.2 125.1,270.2C126.6,272.2 125.6,275.2 125.6,277.6C125.6,280 125.5,282.3 125,284.6C124.5,286.9 123.5,289.1 122.6,291.6C121.6,294.1 120.1,298.4 119.1,299.6C118.2,300.8 117.4,297.9 117,299C116.5,300.1 116.6,304.8 116.5,306" fill="none" stroke="#3a3a3a" stroke-width="0.36" stroke-opacity="0.85"/>
<path d="M115.2,270C114.8,270 114.4,271.9 114.2,272.8C113.9,273.7 113.9,274.7 113.8,275.6C113.6,276.5 113.6,277.5 113.5,278.4C113.4,279.3 113.3,280.3 113.3,281.2C113.3,282.1 113.2,283.1 113.2,284C113.2,284.9 113.2,285.9 113.2,286.8C113.2,287.7 113.2,288.7 113.2,289.6C113.3,290.5 113.3,291.5 113.4,292.4C113.5,293.3 113.5,294.3 113.7,295.2C113.9,296.1 114.2,298 114.6,298C115,298 115.6,296.1 116,295.2C116.3,294.3 116.5,293.3 116.7,292.4C116.9,291.5 117,290.5 117.2,289.6C117.3,288.7 117.4,287.7 117.5,286.8C117.5,285.9 117.6,284.9 117.6,284C117.6,283.1 117.6,282.1 117.6,281.2C117.5,280.3 117.5,279.3 117.4,278.4C117.3,277.5 117.2,276.5 117,275.6C116.9,274.7 116.8,273.7 116.5,272.8C116.2,271.9 115.6,270 115.2,270Z" fill="none" stroke="#3a3a3a" stroke-width="0.36" stroke-opacity="0.8"/>
<path d="M115.2,276C115,276 114.8,277.1 114.7,277.7C114.6,278.3 114.5,278.8 114.5,279.4C114.4,280 114.4,280.5 114.4,281.1C114.3,281.7 114.3,282.2 114.3,282.8C114.2,283.4 114.2,283.9 114.2,284.5C114.2,285.1 114.2,285.6 114.2,286.2C114.2,286.8 114.2,287.3 114.2,287.9C114.2,288.5 114.2,289 114.3,289.6C114.3,290.2 114.3,290.7 114.4,291.3C114.5,291.9 114.6,293 114.8,293C115,293 115.3,291.9 115.5,291.3C115.7,290.7 115.8,290.2 115.9,289.6C116,289 116.1,288.5 116.2,287.9C116.2,287.3 116.3,286.8 116.3,286.2C116.4,285.6 116.4,285.1 116.4,284.5C116.4,283.9 116.4,283.4 116.4,282.8C116.4,282.2 116.4,281.7 116.3,281.1C116.3,280.5 116.2,280 116.1,279.4C116.1,278.8 116,278.3 115.8,277.7C115.7,277.1 115.4,276 115.2,276Z" fill="none" stroke="#3a3a3a" stroke-width="0.36" stroke-opacity="0.8"/>
<path d="M81,241C80.7,241 80.5,244.9 80.3,246.9C80.2,248.9 80.1,250.8 80.1,252.8C80,254.8 79.9,256.7 79.9,258.7C79.9,260.7 79.8,262.6 79.8,264.6C79.8,266.6 79.8,268.5 79.8,270.5C79.8,272.5 79.8,274.4 79.8,276.4C79.9,278.4 79.9,280.3 79.9,282.3C80,284.3 80,286.2 80.1,288.2C80.2,290.2 80.2,292.1 80.4,294.1C80.6,296.1 80.8,300 81.1,300C81.4,300 81.8,296.1 82,294.1C82.2,292.1 82.3,290.2 82.4,288.2C82.5,286.2 82.5,284.3 82.6,282.3C82.7,280.3 82.7,278.4 82.8,276.4C82.8,274.4 82.8,272.5 82.8,270.5C82.8,268.5 82.8,266.6 82.7,264.6C82.7,262.6 82.6,260.7 82.6,258.7C82.5,256.7 82.4,254.8 82.3,252.8C82.2,250.8 82.1,248.9 81.9,246.9C81.7,244.9 81.3,241 81,241Z" fill="none" stroke="#4a4a4a" stroke-width="0.36" stroke-opacity="0.9"/>
<path d="M83.8,236C83.6,236 83.4,240.1 83.3,242.2C83.2,244.3 83.1,246.3 83.1,248.4C83,250.5 83,252.5 83,254.6C82.9,256.7 82.9,258.7 82.9,260.8C82.9,262.9 82.9,264.9 82.9,267C82.9,269.1 82.9,271.1 82.9,273.2C83,275.3 83,277.3 83,279.4C83,281.5 83.1,283.5 83.1,285.6C83.2,287.7 83.2,289.7 83.4,291.8C83.5,293.9 83.7,298 83.9,298C84.1,298 84.4,293.9 84.6,291.8C84.8,289.7 84.8,287.7 84.9,285.6C85,283.5 85.1,281.5 85.1,279.4C85.2,277.3 85.2,275.3 85.3,273.2C85.3,271.1 85.3,269.1 85.3,267C85.3,264.9 85.3,262.9 85.2,260.8C85.2,258.7 85.2,256.7 85.1,254.6C85,252.5 85,250.5 84.9,248.4C84.8,246.3 84.7,244.3 84.5,242.2C84.3,240.1 84,236 83.8,236Z" fill="none" stroke="#4a4a4a" stroke-width="0.36" stroke-opacity="0.9"/>
<path d="M86.6,232C86.4,232 86.1,236.3 86,238.4C85.8,240.5 85.8,242.7 85.7,244.8C85.7,246.9 85.6,249.1 85.6,251.2C85.6,253.3 85.5,255.5 85.5,257.6C85.5,259.7 85.5,261.9 85.5,264C85.5,266.1 85.5,268.3 85.5,270.4C85.6,272.5 85.6,274.7 85.6,276.8C85.7,278.9 85.7,281.1 85.8,283.2C85.9,285.3 85.9,287.5 86,289.6C86.2,291.7 86.5,296 86.7,296C86.9,296 87.3,291.7 87.5,289.6C87.7,287.5 87.8,285.3 87.9,283.2C88,281.1 88.1,278.9 88.1,276.8C88.2,274.7 88.2,272.5 88.3,270.4C88.3,268.3 88.3,266.1 88.3,264C88.3,261.9 88.3,259.7 88.2,257.6C88.2,255.5 88.2,253.3 88.1,251.2C88,249.1 87.9,246.9 87.8,244.8C87.7,242.7 87.6,240.5 87.4,238.4C87.2,236.3 86.8,232 86.6,232Z" fill="none" stroke="#4a4a4a" stroke-width="0.36" stroke-opacity="0.9"/>
<path d="M89.4,238C89.2,238 89,242.1 88.8,244.2C88.7,246.3 88.7,248.3 88.6,250.4C88.6,252.5 88.5,254.5 88.5,256.6C88.5,258.7 88.4,260.7 88.4,262.8C88.4,264.9 88.4,266.9 88.4,269C88.4,271.1 88.4,273.1 88.4,275.2C88.5,277.3 88.5,279.3 88.5,281.4C88.6,283.5 88.6,285.5 88.7,287.6C88.7,289.7 88.8,291.7 88.9,293.8C89,295.9 89.3,300 89.5,300C89.7,300 90.1,295.9 90.3,293.8C90.4,291.7 90.5,289.7 90.6,287.6C90.7,285.5 90.8,283.5 90.8,281.4C90.9,279.3 90.9,277.3 91,275.2C91,273.1 91,271.1 91,269C91,266.9 91,264.9 90.9,262.8C90.9,260.7 90.9,258.7 90.8,256.6C90.7,254.5 90.7,252.5 90.6,250.4C90.4,248.3 90.4,246.3 90.2,244.2C90,242.1 89.6,238 89.4,238Z" fill="none" stroke="#4a4a4a" stroke-width="0.36" stroke-opacity="0.9"/>
<path d="M92,243C91.8,243 91.6,246.8 91.5,248.7C91.4,250.6 91.4,252.5 91.4,254.4C91.3,256.3 91.3,258.2 91.3,260.1C91.2,262 91.2,263.9 91.2,265.8C91.2,267.7 91.2,269.6 91.2,271.5C91.2,273.4 91.2,275.3 91.2,277.2C91.2,279.1 91.3,281 91.3,282.9C91.3,284.8 91.4,286.7 91.4,288.6C91.5,290.5 91.5,292.4 91.6,294.3C91.7,296.2 91.9,300 92.1,300C92.3,300 92.6,296.2 92.8,294.3C92.9,292.4 93,290.5 93.1,288.6C93.1,286.7 93.2,284.8 93.3,282.9C93.3,281 93.3,279.1 93.4,277.2C93.4,275.3 93.4,273.4 93.4,271.5C93.4,269.6 93.4,267.7 93.4,265.8C93.3,263.9 93.3,262 93.2,260.1C93.2,258.2 93.1,256.3 93,254.4C92.9,252.5 92.8,250.6 92.7,248.7C92.5,246.8 92.2,243 92,243Z" fill="none" stroke="#4a4a4a" stroke-width="0.36" stroke-opacity="0.9"/>
<path d="M97.6,240C97.4,240 97.3,244.1 97.2,246.2C97.1,248.3 97.1,250.3 97,252.4C97,254.5 97,256.5 97,258.6C96.9,260.7 96.9,262.7 96.9,264.8C96.9,266.9 96.9,268.9 96.9,271C96.9,273.1 96.9,275.1 96.9,277.2C96.9,279.3 97,281.3 97,283.4C97,285.5 97,287.5 97.1,289.6C97.1,291.7 97.2,293.7 97.3,295.8C97.4,297.9 97.5,302 97.7,302C97.9,302 98.2,297.9 98.3,295.8C98.5,293.7 98.5,291.7 98.6,289.6C98.7,287.5 98.7,285.5 98.8,283.4C98.8,281.3 98.9,279.3 98.9,277.2C98.9,275.1 98.9,273.1 98.9,271C98.9,268.9 98.9,266.9 98.9,264.8C98.8,262.7 98.8,260.7 98.7,258.6C98.7,256.5 98.6,254.5 98.5,252.4C98.4,250.3 98.4,248.3 98.2,246.2C98.1,244.1 97.8,240 97.6,240Z" fill="none" stroke="#4a4a4a" stroke-width="0.36" stroke-opacity="0.9"/>
<path d="M78.2,262C78,262 77.8,264.5 77.7,265.8C77.6,267.1 77.6,268.3 77.6,269.6C77.5,270.9 77.5,272.1 77.5,273.4C77.4,274.7 77.4,275.9 77.4,277.2C77.4,278.5 77.4,279.7 77.4,281C77.4,282.3 77.4,283.5 77.4,284.8C77.4,286.1 77.5,287.3 77.5,288.6C77.5,289.9 77.6,291.1 77.6,292.4C77.7,293.7 77.7,294.9 77.8,296.2C77.9,297.5 78.1,300 78.3,300C78.5,300 78.8,297.5 79,296.2C79.1,294.9 79.2,293.7 79.3,292.4C79.3,291.1 79.4,289.9 79.5,288.6C79.5,287.3 79.5,286.1 79.6,284.8C79.6,283.5 79.6,282.3 79.6,281C79.6,279.7 79.6,278.5 79.6,277.2C79.5,275.9 79.5,274.7 79.4,273.4C79.4,272.1 79.3,270.9 79.2,269.6C79.1,268.3 79,267.1 78.9,265.8C78.7,264.5 78.4,262 78.2,262Z" fill="none" stroke="#4a4a4a" stroke-width="0.36" stroke-opacity="0.9"/>
<path d="M75.2,270C75,270 74.9,272.1 74.8,273.2C74.7,274.3 74.7,275.3 74.6,276.4C74.6,277.5 74.6,278.5 74.6,279.6C74.5,280.7 74.5,281.7 74.5,282.8C74.5,283.9 74.5,284.9 74.5,286C74.5,287.1 74.5,288.1 74.5,289.2C74.5,290.3 74.6,291.3 74.6,292.4C74.6,293.5 74.6,294.5 74.7,295.6C74.7,296.7 74.8,297.7 74.9,298.8C75,299.9 75.1,302 75.3,302C75.5,302 75.8,299.9 75.9,298.8C76.1,297.7 76.1,296.7 76.2,295.6C76.3,294.5 76.3,293.5 76.4,292.4C76.4,291.3 76.5,290.3 76.5,289.2C76.5,288.1 76.5,287.1 76.5,286C76.5,284.9 76.5,283.9 76.5,282.8C76.4,281.7 76.4,280.7 76.3,279.6C76.3,278.5 76.2,277.5 76.1,276.4C76,275.3 76,274.3 75.8,273.2C75.7,272.1 75.4,270 75.2,270Z" fill="none" stroke="#4a4a4a" stroke-width="0.36" stroke-opacity="0.9"/>
<path d="M85.2,252C85.1,252 85,254.5 85,255.8C84.9,257.1 84.9,258.3 84.9,259.6C84.9,260.9 84.9,262.1 84.9,263.4C84.9,264.7 84.9,265.9 84.9,267.2C84.9,268.5 84.9,269.7 84.9,271C84.9,272.3 84.9,273.5 84.9,274.8C84.9,276.1 84.9,277.3 84.9,278.6C85,279.9 85,281.1 85,282.4C85,283.7 85,284.9 85.1,286.2C85.1,287.5 85.2,290 85.3,290C85.4,290 85.6,287.5 85.7,286.2C85.8,284.9 85.8,283.7 85.9,282.4C85.9,281.1 86,279.9 86,278.6C86,277.3 86.1,276.1 86.1,274.8C86.1,273.5 86.1,272.3 86.1,271C86.1,269.7 86.1,268.5 86.1,267.2C86,265.9 86,264.7 86,263.4C85.9,262.1 85.9,260.9 85.8,259.6C85.8,258.3 85.7,257.1 85.6,255.8C85.5,254.5 85.3,252 85.2,252Z" fill="none" stroke="#4a4a4a" stroke-width="0.36" stroke-opacity="0.9"/>
<path d="M90.6,255C90.5,255 90.4,257.5 90.4,258.7C90.3,259.9 90.3,261.2 90.3,262.4C90.3,263.6 90.3,264.9 90.3,266.1C90.3,267.3 90.3,268.6 90.3,269.8C90.3,271 90.3,272.3 90.3,273.5C90.3,274.7 90.3,276 90.3,277.2C90.3,278.4 90.3,279.7 90.3,280.9C90.4,282.1 90.4,283.4 90.4,284.6C90.4,285.8 90.4,287.1 90.5,288.3C90.5,289.5 90.6,292 90.7,292C90.8,292 91,289.5 91.1,288.3C91.2,287.1 91.2,285.8 91.3,284.6C91.3,283.4 91.4,282.1 91.4,280.9C91.4,279.7 91.5,278.4 91.5,277.2C91.5,276 91.5,274.7 91.5,273.5C91.5,272.3 91.5,271 91.5,269.8C91.4,268.6 91.4,267.3 91.4,266.1C91.3,264.9 91.3,263.6 91.2,262.4C91.2,261.2 91.1,259.9 91,258.7C90.9,257.5 90.7,255 90.6,255Z" fill="none" stroke="#4a4a4a" stroke-width="0.36" stroke-opacity="0.9"/>
<path d="M35.2,231C34.8,231 34.6,233.1 34.5,234.1C34.3,235.1 34.4,236.2 34.4,237.2C34.3,238.2 34.3,239.3 34.3,240.3C34.3,241.3 34.3,242.4 34.3,243.4C34.4,244.4 34.4,245.5 34.4,246.5C34.4,247.5 34.5,248.6 34.5,249.6C34.5,250.6 34.6,251.7 34.6,252.7C34.7,253.7 34.8,254.8 34.8,255.8C34.9,256.8 34.9,257.9 35.1,258.9C35.3,259.9 35.6,262 36,262C36.4,262 37.1,259.9 37.4,258.9C37.8,257.9 37.9,256.8 38.1,255.8C38.3,254.8 38.4,253.7 38.6,252.7C38.7,251.7 38.7,250.6 38.8,249.6C38.8,248.6 38.8,247.5 38.8,246.5C38.8,245.5 38.7,244.4 38.6,243.4C38.5,242.4 38.4,241.3 38.2,240.3C38.1,239.3 37.9,238.2 37.6,237.2C37.4,236.2 37.2,235.1 36.8,234.1C36.4,233.1 35.6,231 35.2,231Z" fill="none" stroke="#4a4236" stroke-width="0.36" stroke-opacity="0.9"/>
<path d="M53,222C52.6,222 52.1,224.9 51.8,226.4C51.6,227.9 51.5,229.3 51.4,230.8C51.3,232.3 51.2,233.7 51.2,235.2C51.2,236.7 51.1,238.1 51.1,239.6C51.1,241.1 51.2,242.5 51.2,244C51.2,245.5 51.3,246.9 51.4,248.4C51.5,249.9 51.6,251.3 51.8,252.8C51.9,254.3 52.1,255.7 52.3,257.2C52.5,258.7 52.6,260.1 53,261.6C53.3,263.1 54,266 54.4,266C54.8,266 55.2,263.1 55.5,261.6C55.7,260.1 55.8,258.7 55.8,257.2C55.9,255.7 56,254.3 56,252.8C56.1,251.3 56.1,249.9 56.1,248.4C56.1,246.9 56,245.5 56,244C56,242.5 55.9,241.1 55.8,239.6C55.7,238.1 55.6,236.7 55.5,235.2C55.3,233.7 55.2,232.3 55,230.8C54.8,229.3 54.7,227.9 54.4,226.4C54,224.9 53.4,222 53,222Z" fill="none" stroke="#4a4236" stroke-width="0.36" stroke-opacity="0.9"/>
<path d="M57.4,221C57.1,221 56.7,223.7 56.4,225.1C56.2,226.5 56.2,227.8 56.1,229.2C56,230.6 55.9,231.9 55.9,233.3C55.8,234.7 55.8,236 55.8,237.4C55.8,238.8 55.8,240.1 55.8,241.5C55.8,242.9 55.9,244.2 55.9,245.6C56,247 56.1,248.3 56.2,249.7C56.3,251.1 56.4,252.4 56.5,253.8C56.7,255.2 56.8,256.5 57.1,257.9C57.3,259.3 57.9,262 58.2,262C58.5,262 58.9,259.3 59.2,257.9C59.4,256.5 59.4,255.2 59.5,253.8C59.6,252.4 59.7,251.1 59.7,249.7C59.8,248.3 59.8,247 59.8,245.6C59.8,244.2 59.8,242.9 59.8,241.5C59.8,240.1 59.7,238.8 59.7,237.4C59.6,236 59.5,234.7 59.4,233.3C59.3,231.9 59.2,230.6 59.1,229.2C58.9,227.8 58.8,226.5 58.5,225.1C58.3,223.7 57.7,221 57.4,221Z" fill="none" stroke="#4a4236" stroke-width="0.36" stroke-opacity="0.9"/>
<path d="M53.4,232C53.2,232 53,233.7 52.9,234.6C52.8,235.5 52.8,236.3 52.7,237.2C52.7,238.1 52.7,238.9 52.6,239.8C52.6,240.7 52.6,241.5 52.6,242.4C52.6,243.3 52.7,244.1 52.7,245C52.7,245.9 52.8,246.7 52.8,247.6C52.9,248.5 53,249.3 53,250.2C53.1,251.1 53.2,251.9 53.3,252.8C53.4,253.7 53.5,254.5 53.7,255.4C53.9,256.3 54.2,258 54.4,258C54.6,258 54.7,256.3 54.8,255.4C54.9,254.5 54.9,253.7 55,252.8C55,251.9 55,251.1 55,250.2C55,249.3 55,248.5 55,247.6C55,246.7 54.9,245.9 54.9,245C54.9,244.1 54.8,243.3 54.8,242.4C54.7,241.5 54.7,240.7 54.6,239.8C54.5,238.9 54.4,238.1 54.4,237.2C54.3,236.3 54.2,235.5 54,234.6C53.9,233.7 53.6,232 53.4,232Z" fill="none" stroke="#4a4236" stroke-width="0.36" stroke-opacity="0.9"/>
<path d="M48,219C47.8,219 47.5,221.1 47.4,222.1C47.3,223.1 47.2,224.2 47.2,225.2C47.1,226.2 47.1,227.3 47,228.3C47,229.3 47,230.4 47,231.4C47,232.4 47,233.5 47,234.5C47,235.5 47.1,236.6 47.1,237.6C47.1,238.6 47.2,239.7 47.3,240.7C47.3,241.7 47.4,242.8 47.5,243.8C47.6,244.8 47.7,245.9 47.9,246.9C48.1,247.9 48.4,250 48.6,250C48.8,250 49,247.9 49.1,246.9C49.3,245.9 49.3,244.8 49.3,243.8C49.4,242.8 49.4,241.7 49.4,240.7C49.4,239.7 49.4,238.6 49.4,237.6C49.4,236.6 49.4,235.5 49.4,234.5C49.4,233.5 49.4,232.4 49.3,231.4C49.3,230.4 49.2,229.3 49.2,228.3C49.1,227.3 49,226.2 49,225.2C48.9,224.2 48.8,223.1 48.7,222.1C48.5,221.1 48.2,219 48,219Z" fill="none" stroke="#4a4236" stroke-width="0.36" stroke-opacity="0.9"/>
<path d="M68.4,247C68.1,247 67.8,250.5 67.7,252.3C67.5,254.1 67.5,255.8 67.4,257.6C67.4,259.4 67.3,261.1 67.3,262.9C67.3,264.7 67.2,266.4 67.2,268.2C67.2,270 67.3,271.7 67.3,273.5C67.3,275.3 67.4,277 67.4,278.8C67.5,280.6 67.6,282.3 67.7,284.1C67.8,285.9 67.9,287.6 68,289.4C68.1,291.2 68.2,292.9 68.5,294.7C68.7,296.5 69.1,300 69.4,300C69.7,300 69.9,296.5 70.1,294.7C70.2,292.9 70.2,291.2 70.3,289.4C70.3,287.6 70.3,285.9 70.4,284.1C70.4,282.3 70.4,280.6 70.4,278.8C70.4,277 70.3,275.3 70.3,273.5C70.3,271.7 70.2,270 70.2,268.2C70.1,266.4 70,264.7 70,262.9C69.9,261.1 69.8,259.4 69.7,257.6C69.5,255.8 69.5,254.1 69.3,252.3C69,250.5 68.7,247 68.4,247Z" fill="none" stroke="#4a4236" stroke-width="0.36" stroke-opacity="0.9"/>
<path d="M72,262C71.8,262 71.5,264.7 71.4,266C71.3,267.3 71.2,268.7 71.2,270C71.1,271.3 71.1,272.7 71,274C71,275.3 71,276.7 71,278C71,279.3 71,280.7 71,282C71,283.3 71.1,284.7 71.1,286C71.1,287.3 71.2,288.7 71.3,290C71.3,291.3 71.4,292.7 71.5,294C71.6,295.3 71.7,296.7 71.9,298C72.1,299.3 72.4,302 72.6,302C72.8,302 73,299.3 73.1,298C73.3,296.7 73.3,295.3 73.3,294C73.4,292.7 73.4,291.3 73.4,290C73.4,288.7 73.4,287.3 73.4,286C73.4,284.7 73.4,283.3 73.4,282C73.4,280.7 73.4,279.3 73.3,278C73.3,276.7 73.2,275.3 73.2,274C73.1,272.7 73,271.3 73,270C72.9,268.7 72.8,267.3 72.7,266C72.5,264.7 72.2,262 72,262Z" fill="none" stroke="#4a4236" stroke-width="0.36" stroke-opacity="0.9"/>
<path d="M50.2,221C49.9,221 49.6,224.1 49.5,225.7C49.3,227.3 49.3,228.8 49.2,230.4C49.2,232 49.2,233.5 49.1,235.1C49.1,236.7 49.1,238.2 49.1,239.8C49.1,241.4 49.2,242.9 49.2,244.5C49.2,246.1 49.3,247.6 49.4,249.2C49.4,250.8 49.5,252.3 49.6,253.9C49.7,255.5 49.8,257 50,258.6C50.1,260.2 50.2,261.7 50.4,263.3C50.7,264.9 51.1,268 51.4,268C51.7,268 52,264.9 52.1,263.3C52.3,261.7 52.3,260.2 52.4,258.6C52.4,257 52.4,255.5 52.5,253.9C52.5,252.3 52.5,250.8 52.5,249.2C52.5,247.6 52.4,246.1 52.4,244.5C52.4,242.9 52.3,241.4 52.2,239.8C52.2,238.2 52.1,236.7 52,235.1C51.9,233.5 51.8,232 51.6,230.4C51.5,228.8 51.4,227.3 51.2,225.7C50.9,224.1 50.5,221 50.2,221Z" fill="none" stroke="#4a4236" stroke-width="0.36" stroke-opacity="0.9"/>
<path d="M56,226C55.4,226 54.8,228.7 54.4,230C54,231.3 53.9,232.7 53.8,234C53.6,235.3 53.5,236.7 53.4,238C53.3,239.3 53.2,240.7 53.2,242C53.2,243.3 53.2,244.7 53.2,246C53.2,247.3 53.3,248.7 53.4,250C53.5,251.3 53.6,252.7 53.7,254C53.9,255.3 54,256.7 54.3,258C54.5,259.3 54.6,260.7 55,262C55.5,263.3 56.2,266 56.8,266C57.4,266 58,263.3 58.4,262C58.8,260.7 58.9,259.3 59,258C59.2,256.7 59.3,255.3 59.4,254C59.5,252.7 59.6,251.3 59.6,250C59.6,248.7 59.6,247.3 59.6,246C59.6,244.7 59.5,243.3 59.4,242C59.3,240.7 59.2,239.3 59.1,238C58.9,236.7 58.8,235.3 58.5,234C58.3,232.7 58.2,231.3 57.8,230C57.3,228.7 56.6,226 56,226Z" fill="none" stroke="#4a4236" stroke-width="0.36" stroke-opacity="0.9"/>
<path d="M152.4,299C151.9,298 151.6,294.3 151.6,292C151.6,289.7 152,286.8 152.4,285C152.8,283.2 153.2,281.9 154,281C154.8,280.1 156.7,279.3 157.5,279.4C158.3,279.5 158.8,280.3 158.8,281.4C158.9,282.5 158.2,284.2 157.8,286C157.4,287.8 157,290 156.4,292C155.8,294 155.1,296.8 154.4,298C153.7,299.2 152.9,300 152.4,299Z" fill="none" stroke="#3a3a3a" stroke-width="0.36" stroke-opacity="0.9"/>
<path d="M31,307.7 32,260.1 34.5,261.7 37,263.3 39.4,265 41.8,266.9 44.2,269.2 46.7,271.8 50.3,275.4 53.9,279.5 56.6,284.1 58.8,289.1 60.6,294.3 62.2,298.3 63.6,300.5 65.8,301.7 68.2,302.5 70.1,301.1 71.9,300.5 73.7,299.3 75.5,298.1 77.3,296.8 78.5,297.7 79.2,295.6 81,293.8 82.8,293.2 84.6,293.8 86.4,292.6 87.6,292 88.9,293.2 90.1,295 92.5,296.2 94.9,295.6 97.3,296.8 99.8,299.3 101.6,301.7 103.4,304.7 103.9,305.7 103.9,307.7Z" fill="#d3d3d3"/>
<text transform="translate(46,243) rotate(-90)" class="cl" style="font-size:7.2px;font-family:'Liberation Serif',serif" text-anchor="middle">1×1e<tspan dy="-2.2" font-size="4.8">-4</tspan></text>
<text transform="translate(70.6,258) rotate(-90)" class="cl" style="font-size:7.2px;font-family:'Liberation Serif',serif" text-anchor="middle">1×1e<tspan dy="-2.2" font-size="4.8">-4</tspan></text>
<text transform="translate(84.4,240) rotate(-90)" class="cl" style="font-size:7.2px;font-family:'Liberation Serif',serif" text-anchor="middle">1×1e<tspan dy="-2.2" font-size="4.8">-4</tspan></text>
<text transform="translate(123,239) rotate(0)" class="cl" style="font-size:7.2px;font-family:'Liberation Serif',serif" text-anchor="middle">1×1e<tspan dy="-2.2" font-size="4.8">-3</tspan></text>
<text transform="translate(122.8,258.2) rotate(9)" class="cl" style="font-size:7.2px;font-family:'Liberation Serif',serif" text-anchor="middle">1×1e<tspan dy="-2.2" font-size="4.8">-4</tspan></text>
<text transform="translate(149,287) rotate(-80)" class="cl" style="font-size:7.2px;font-family:'Liberation Serif',serif" text-anchor="middle">1×1e<tspan dy="-2.2" font-size="4.8">-4</tspan></text>
</g>
<g clip-path="url(#cd)">
<rect x="274.3" y="174.6" width="183.39999999999998" height="131.1" fill="#f7fbff"/>
<path d="M271,244.4C272.2,244.5 276.2,244.6 278,245C279.8,245.4 280.7,246 282,247C283.3,248 284.7,249.7 286,251C287.3,252.3 288.7,253.5 290.1,255C291.4,256.5 292.8,258.2 294.2,260C295.5,261.8 296.9,263.8 298.3,266C299.7,268.2 301.2,270.7 302.5,273C303.7,275.3 304.6,277.5 305.6,280C306.7,282.5 307.9,285.5 308.7,288C309.5,290.5 310,293 310.7,295C311.4,297 312.2,298.5 312.7,300C313.2,301.5 313.5,303.3 313.7,304L313.7,306.0 L271.0,306.0 Z" fill="#e7f0fa"/>
<path d="M271,247C272.2,247.1 276.2,247.1 278,247.6C279.8,248.1 280.7,249 282,250C283.3,251 284.7,252.3 286,253.6C287.4,254.9 288.8,256 290.1,257.6C291.5,259.2 292.9,261.1 294.2,263C295.6,264.9 297.1,266.8 298.4,269C299.7,271.2 301.1,273.7 302.1,276C303.2,278.3 303.9,280.7 304.7,283C305.4,285.3 306.1,287.7 306.7,290C307.3,292.3 307.8,294.8 308.3,297C308.8,299.2 309.3,302 309.5,303L309.5,306.0 L271.0,306.0 Z" fill="#c6dbef"/>
<path d="M271,251C272.2,251.2 276.2,251.4 278,252C279.8,252.6 280.7,253.4 282.1,254.4C283.4,255.4 284.8,256.7 286.1,258C287.5,259.3 288.9,260.7 290.2,262.4C291.6,264.1 293,266.1 294.4,268C295.7,269.9 297,272 298.1,274C299.1,276 299.8,277.8 300.6,280C301.5,282.2 302.4,284.7 303.1,287C303.8,289.3 304.4,291.7 305.1,294C305.8,296.3 306.8,299.8 307.1,301L307.1,306.0 L271.0,306.0 Z" fill="#8dc1dd"/>
<path d="M271.1,255.6C272.3,255.8 276.4,256.3 278.1,257C279.8,257.7 280.1,258.8 281.2,259.6C282.2,260.4 283.2,261 284.2,262C285.2,263 286.3,264.3 287.3,265.6C288.3,266.9 289.2,268.1 290.4,269.6C291.6,271.1 293.3,273.2 294.5,274.8C295.7,276.4 296.7,277.6 297.6,279.2C298.5,280.8 299.4,282.9 299.9,284.4C300.4,285.9 300.5,287.1 300.7,288C300.9,288.9 301,289.7 301.1,290L301.1,306.0 L271.0,306.0 Z" fill="#4f9bcb"/>
<path d="M273,256.8C273.5,256.1 275.2,256.8 276,257.2C276.8,257.6 277.6,258.4 277.6,259.2C277.6,260 276.8,261.6 276,262C275.2,262.4 273.5,262.5 273,261.6C272.5,260.7 272.5,257.5 273,256.8Z" fill="#2070b4"/>
<path d="M279.2,260C279.7,259.7 281.1,260 282,260.4C282.9,260.8 283.8,261.6 284.4,262.4C285,263.2 285.6,264.5 285.6,265.2C285.6,265.9 285.1,266.9 284.4,266.8C283.7,266.7 282.5,265.5 281.6,264.8C280.7,264.1 279.6,263.2 279.2,262.4C278.8,261.6 278.7,260.3 279.2,260Z" fill="#2070b4"/>
<path d="M311.2,306C311.3,305.3 311.1,303.9 311.8,301.7C312.5,299.5 314.2,295.3 315.4,292.6C316.6,289.9 317.8,287.3 319,285.3C320.2,283.3 321.3,281.6 322.7,280.5C324.1,279.4 325.9,278.7 327.5,278.7C329.1,278.7 330.8,279.2 332.4,280.5C334,281.8 335.7,284.4 337.2,286.5C338.7,288.6 340.3,291.1 341.5,293.2C342.7,295.3 343.8,297.2 344.5,299.3C345.2,301.4 345.8,304.9 346,306Z" fill="#e7f0fa"/>
<path d="M313.4,306C313.5,304.7 313.6,300.5 314.2,298.1C314.8,295.7 316.2,293.5 317.2,291.4C318.2,289.3 319.1,286.9 320.2,285.3C321.3,283.7 322.6,282.6 323.9,281.7C325.2,280.8 326.7,280.1 328.1,280.2C329.5,280.3 331,281 332.4,282.3C333.8,283.6 335.3,285.9 336.6,287.8C337.9,289.7 339.1,292 340.2,293.8C341.3,295.6 342.6,296.7 343.3,298.7C344,300.7 344.2,304.8 344.4,306Z" fill="#c6dbef"/>
<path d="M320.4,306C320.5,304.6 320.6,299.9 320.8,297.5C321,295.1 321.1,293.2 321.5,291.4C321.9,289.6 322.5,287.8 323.3,286.5C324.1,285.2 325.3,284.1 326.3,283.5C327.3,282.9 328.3,282.6 329.3,282.7C330.3,282.8 331.4,283.1 332.4,284.1C333.4,285.2 334.7,287.3 335.4,289C336.1,290.7 336.3,291.6 336.6,294.4C336.9,297.2 337.3,304.1 337.4,306Z" fill="#8dc1dd"/>
<path d="M323.6,306C323.7,303.9 323.9,296 324.1,293.2C324.4,290.4 324.5,290.1 325.1,289C325.7,287.9 326.7,286.8 327.5,286.3C328.3,285.8 329.1,285.6 329.9,285.9C330.7,286.1 331.8,286.9 332.4,287.8C333,288.7 333.4,288.4 333.8,291.4C334.2,294.4 334.6,303.6 334.7,306Z" fill="#4f9bcb"/>
<path d="M273.3,307.7 274.3,260.1 276.8,261.7 279.3,263.3 281.7,265 284.1,266.9 286.5,269.2 289,271.8 292.6,275.4 296.2,279.5 298.9,284.1 301.1,289.1 302.9,294.3 304.5,298.3 305.9,300.5 308.1,301.7 310.5,302.5 312.4,301.1 314.2,300.5 316,299.3 317.8,298.1 319.6,296.8 320.8,297.7 321.5,295.6 323.3,293.8 325.1,293.2 326.9,293.8 328.7,292.6 329.9,292 331.2,293.2 332.4,295 334.8,296.2 337.2,295.6 339.6,296.8 342.1,299.3 343.9,301.7 345.7,304.7 346.2,305.7 346.2,307.7Z" fill="#d3d3d3"/>
</g>
<rect x="32.0" y="16.2" width="183.5" height="131.10000000000002" fill="none" stroke="#1a1a1a" stroke-width="0.6"/>
<line x1="30.4" y1="147.3" x2="32" y2="147.3" stroke="#000" stroke-width="0.5"/>
<text transform="translate(29.6,150.4) scale(0.88,1)" class="t" text-anchor="end">0.0</text>
<line x1="30.4" y1="128.6" x2="32" y2="128.6" stroke="#000" stroke-width="0.5"/>
<text transform="translate(29.6,131.7) scale(0.88,1)" class="t" text-anchor="end">0.5</text>
<line x1="30.4" y1="109.8" x2="32" y2="109.8" stroke="#000" stroke-width="0.5"/>
<text transform="translate(29.6,112.9) scale(0.88,1)" class="t" text-anchor="end">1.0</text>
<line x1="30.4" y1="91.1" x2="32" y2="91.1" stroke="#000" stroke-width="0.5"/>
<text transform="translate(29.6,94.2) scale(0.88,1)" class="t" text-anchor="end">1.5</text>
<line x1="30.4" y1="72.4" x2="32" y2="72.4" stroke="#000" stroke-width="0.5"/>
<text transform="translate(29.6,75.5) scale(0.88,1)" class="t" text-anchor="end">2.0</text>
<line x1="30.4" y1="53.7" x2="32" y2="53.7" stroke="#000" stroke-width="0.5"/>
<text transform="translate(29.6,56.8) scale(0.88,1)" class="t" text-anchor="end">2.5</text>
<line x1="30.4" y1="34.9" x2="32" y2="34.9" stroke="#000" stroke-width="0.5"/>
<text transform="translate(29.6,38) scale(0.88,1)" class="t" text-anchor="end">3.0</text>
<line x1="30.4" y1="16.2" x2="32" y2="16.2" stroke="#000" stroke-width="0.5"/>
<text transform="translate(29.6,19.3) scale(0.88,1)" class="t" text-anchor="end">3.5</text>
<line x1="32" y1="147.3" x2="32" y2="148.9" stroke="#000" stroke-width="0.5"/>
<text transform="translate(32,155.4) scale(0.88,1)" class="t" text-anchor="middle">A</text>
<line x1="62.3" y1="147.3" x2="62.3" y2="148.9" stroke="#000" stroke-width="0.5"/>
<text transform="translate(62.3,155.4) scale(0.88,1)" class="t" text-anchor="middle">50</text>
<line x1="92.6" y1="147.3" x2="92.6" y2="148.9" stroke="#000" stroke-width="0.5"/>
<text transform="translate(92.6,155.4) scale(0.88,1)" class="t" text-anchor="middle">100</text>
<line x1="122.9" y1="147.3" x2="122.9" y2="148.9" stroke="#000" stroke-width="0.5"/>
<text transform="translate(122.9,155.4) scale(0.88,1)" class="t" text-anchor="middle">150</text>
<line x1="153.3" y1="147.3" x2="153.3" y2="148.9" stroke="#000" stroke-width="0.5"/>
<text transform="translate(153.3,155.4) scale(0.88,1)" class="t" text-anchor="middle">200</text>
<line x1="183.6" y1="147.3" x2="183.6" y2="148.9" stroke="#000" stroke-width="0.5"/>
<text transform="translate(183.6,155.4) scale(0.88,1)" class="t" text-anchor="middle">250</text>
<line x1="215.5" y1="147.3" x2="215.5" y2="148.9" stroke="#000" stroke-width="0.5"/>
<text transform="translate(215.5,155.4) scale(0.88,1)" class="t" text-anchor="middle">B</text>
<path d="M104.5,147.6 L102.6,153.5 L106.4,153.5 Z" fill="#ff0000"/>
<rect x="274.3" y="16.2" width="183.39999999999998" height="131.10000000000002" fill="none" stroke="#1a1a1a" stroke-width="0.6"/>
<line x1="272.7" y1="147.3" x2="274.3" y2="147.3" stroke="#000" stroke-width="0.5"/>
<text transform="translate(271.9,150.4) scale(0.88,1)" class="t" text-anchor="end">0.0</text>
<line x1="272.7" y1="128.6" x2="274.3" y2="128.6" stroke="#000" stroke-width="0.5"/>
<text transform="translate(271.9,131.7) scale(0.88,1)" class="t" text-anchor="end">0.5</text>
<line x1="272.7" y1="109.8" x2="274.3" y2="109.8" stroke="#000" stroke-width="0.5"/>
<text transform="translate(271.9,112.9) scale(0.88,1)" class="t" text-anchor="end">1.0</text>
<line x1="272.7" y1="91.1" x2="274.3" y2="91.1" stroke="#000" stroke-width="0.5"/>
<text transform="translate(271.9,94.2) scale(0.88,1)" class="t" text-anchor="end">1.5</text>
<line x1="272.7" y1="72.4" x2="274.3" y2="72.4" stroke="#000" stroke-width="0.5"/>
<text transform="translate(271.9,75.5) scale(0.88,1)" class="t" text-anchor="end">2.0</text>
<line x1="272.7" y1="53.7" x2="274.3" y2="53.7" stroke="#000" stroke-width="0.5"/>
<text transform="translate(271.9,56.8) scale(0.88,1)" class="t" text-anchor="end">2.5</text>
<line x1="272.7" y1="34.9" x2="274.3" y2="34.9" stroke="#000" stroke-width="0.5"/>
<text transform="translate(271.9,38) scale(0.88,1)" class="t" text-anchor="end">3.0</text>
<line x1="272.7" y1="16.2" x2="274.3" y2="16.2" stroke="#000" stroke-width="0.5"/>
<text transform="translate(271.9,19.3) scale(0.88,1)" class="t" text-anchor="end">3.5</text>
<line x1="274.3" y1="147.3" x2="274.3" y2="148.9" stroke="#000" stroke-width="0.5"/>
<text transform="translate(274.3,155.4) scale(0.88,1)" class="t" text-anchor="middle">A</text>
<line x1="304.6" y1="147.3" x2="304.6" y2="148.9" stroke="#000" stroke-width="0.5"/>
<text transform="translate(304.6,155.4) scale(0.88,1)" class="t" text-anchor="middle">50</text>
<line x1="334.9" y1="147.3" x2="334.9" y2="148.9" stroke="#000" stroke-width="0.5"/>
<text transform="translate(334.9,155.4) scale(0.88,1)" class="t" text-anchor="middle">100</text>
<line x1="365.2" y1="147.3" x2="365.2" y2="148.9" stroke="#000" stroke-width="0.5"/>
<text transform="translate(365.2,155.4) scale(0.88,1)" class="t" text-anchor="middle">150</text>
<line x1="395.6" y1="147.3" x2="395.6" y2="148.9" stroke="#000" stroke-width="0.5"/>
<text transform="translate(395.6,155.4) scale(0.88,1)" class="t" text-anchor="middle">200</text>
<line x1="425.9" y1="147.3" x2="425.9" y2="148.9" stroke="#000" stroke-width="0.5"/>
<text transform="translate(425.9,155.4) scale(0.88,1)" class="t" text-anchor="middle">250</text>
<line x1="457.7" y1="147.3" x2="457.7" y2="148.9" stroke="#000" stroke-width="0.5"/>
<text transform="translate(457.7,155.4) scale(0.88,1)" class="t" text-anchor="middle">B</text>
<path d="M346.8,147.6 L344.9,153.5 L348.7,153.5 Z" fill="#ff0000"/>
<rect x="32.0" y="174.6" width="183.5" height="131.1" fill="none" stroke="#1a1a1a" stroke-width="0.6"/>
<line x1="30.4" y1="305.7" x2="32" y2="305.7" stroke="#000" stroke-width="0.5"/>
<text transform="translate(29.6,308.8) scale(0.88,1)" class="t" text-anchor="end">0.0</text>
<line x1="30.4" y1="287" x2="32" y2="287" stroke="#000" stroke-width="0.5"/>
<text transform="translate(29.6,290.1) scale(0.88,1)" class="t" text-anchor="end">0.5</text>
<line x1="30.4" y1="268.2" x2="32" y2="268.2" stroke="#000" stroke-width="0.5"/>
<text transform="translate(29.6,271.3) scale(0.88,1)" class="t" text-anchor="end">1.0</text>
<line x1="30.4" y1="249.5" x2="32" y2="249.5" stroke="#000" stroke-width="0.5"/>
<text transform="translate(29.6,252.6) scale(0.88,1)" class="t" text-anchor="end">1.5</text>
<line x1="30.4" y1="230.8" x2="32" y2="230.8" stroke="#000" stroke-width="0.5"/>
<text transform="translate(29.6,233.9) scale(0.88,1)" class="t" text-anchor="end">2.0</text>
<line x1="30.4" y1="212.1" x2="32" y2="212.1" stroke="#000" stroke-width="0.5"/>
<text transform="translate(29.6,215.2) scale(0.88,1)" class="t" text-anchor="end">2.5</text>
<line x1="30.4" y1="193.3" x2="32" y2="193.3" stroke="#000" stroke-width="0.5"/>
<text transform="translate(29.6,196.4) scale(0.88,1)" class="t" text-anchor="end">3.0</text>
<line x1="30.4" y1="174.6" x2="32" y2="174.6" stroke="#000" stroke-width="0.5"/>
<text transform="translate(29.6,177.7) scale(0.88,1)" class="t" text-anchor="end">3.5</text>
<line x1="32" y1="305.7" x2="32" y2="307.3" stroke="#000" stroke-width="0.5"/>
<text transform="translate(32,313.8) scale(0.88,1)" class="t" text-anchor="middle">A</text>
<line x1="62.3" y1="305.7" x2="62.3" y2="307.3" stroke="#000" stroke-width="0.5"/>
<text transform="translate(62.3,313.8) scale(0.88,1)" class="t" text-anchor="middle">50</text>
<line x1="92.6" y1="305.7" x2="92.6" y2="307.3" stroke="#000" stroke-width="0.5"/>
<text transform="translate(92.6,313.8) scale(0.88,1)" class="t" text-anchor="middle">100</text>
<line x1="122.9" y1="305.7" x2="122.9" y2="307.3" stroke="#000" stroke-width="0.5"/>
<text transform="translate(122.9,313.8) scale(0.88,1)" class="t" text-anchor="middle">150</text>
<line x1="153.3" y1="305.7" x2="153.3" y2="307.3" stroke="#000" stroke-width="0.5"/>
<text transform="translate(153.3,313.8) scale(0.88,1)" class="t" text-anchor="middle">200</text>
<line x1="183.6" y1="305.7" x2="183.6" y2="307.3" stroke="#000" stroke-width="0.5"/>
<text transform="translate(183.6,313.8) scale(0.88,1)" class="t" text-anchor="middle">250</text>
<line x1="215.5" y1="305.7" x2="215.5" y2="307.3" stroke="#000" stroke-width="0.5"/>
<text transform="translate(215.5,313.8) scale(0.88,1)" class="t" text-anchor="middle">B</text>
<path d="M104.5,306 L102.6,311.9 L106.4,311.9 Z" fill="#ff0000"/>
<rect x="274.3" y="174.6" width="183.39999999999998" height="131.1" fill="none" stroke="#1a1a1a" stroke-width="0.6"/>
<line x1="272.7" y1="305.7" x2="274.3" y2="305.7" stroke="#000" stroke-width="0.5"/>
<text transform="translate(271.9,308.8) scale(0.88,1)" class="t" text-anchor="end">0.0</text>
<line x1="272.7" y1="287" x2="274.3" y2="287" stroke="#000" stroke-width="0.5"/>
<text transform="translate(271.9,290.1) scale(0.88,1)" class="t" text-anchor="end">0.5</text>
<line x1="272.7" y1="268.2" x2="274.3" y2="268.2" stroke="#000" stroke-width="0.5"/>
<text transform="translate(271.9,271.3) scale(0.88,1)" class="t" text-anchor="end">1.0</text>
<line x1="272.7" y1="249.5" x2="274.3" y2="249.5" stroke="#000" stroke-width="0.5"/>
<text transform="translate(271.9,252.6) scale(0.88,1)" class="t" text-anchor="end">1.5</text>
<line x1="272.7" y1="230.8" x2="274.3" y2="230.8" stroke="#000" stroke-width="0.5"/>
<text transform="translate(271.9,233.9) scale(0.88,1)" class="t" text-anchor="end">2.0</text>
<line x1="272.7" y1="212.1" x2="274.3" y2="212.1" stroke="#000" stroke-width="0.5"/>
<text transform="translate(271.9,215.2) scale(0.88,1)" class="t" text-anchor="end">2.5</text>
<line x1="272.7" y1="193.3" x2="274.3" y2="193.3" stroke="#000" stroke-width="0.5"/>
<text transform="translate(271.9,196.4) scale(0.88,1)" class="t" text-anchor="end">3.0</text>
<line x1="272.7" y1="174.6" x2="274.3" y2="174.6" stroke="#000" stroke-width="0.5"/>
<text transform="translate(271.9,177.7) scale(0.88,1)" class="t" text-anchor="end">3.5</text>
<line x1="274.3" y1="305.7" x2="274.3" y2="307.3" stroke="#000" stroke-width="0.5"/>
<text transform="translate(274.3,313.8) scale(0.88,1)" class="t" text-anchor="middle">A</text>
<line x1="304.6" y1="305.7" x2="304.6" y2="307.3" stroke="#000" stroke-width="0.5"/>
<text transform="translate(304.6,313.8) scale(0.88,1)" class="t" text-anchor="middle">50</text>
<line x1="334.9" y1="305.7" x2="334.9" y2="307.3" stroke="#000" stroke-width="0.5"/>
<text transform="translate(334.9,313.8) scale(0.88,1)" class="t" text-anchor="middle">100</text>
<line x1="365.2" y1="305.7" x2="365.2" y2="307.3" stroke="#000" stroke-width="0.5"/>
<text transform="translate(365.2,313.8) scale(0.88,1)" class="t" text-anchor="middle">150</text>
<line x1="395.6" y1="305.7" x2="395.6" y2="307.3" stroke="#000" stroke-width="0.5"/>
<text transform="translate(395.6,313.8) scale(0.88,1)" class="t" text-anchor="middle">200</text>
<line x1="425.9" y1="305.7" x2="425.9" y2="307.3" stroke="#000" stroke-width="0.5"/>
<text transform="translate(425.9,313.8) scale(0.88,1)" class="t" text-anchor="middle">250</text>
<line x1="457.7" y1="305.7" x2="457.7" y2="307.3" stroke="#000" stroke-width="0.5"/>
<text transform="translate(457.7,313.8) scale(0.88,1)" class="t" text-anchor="middle">B</text>
<path d="M346.8,306 L344.9,311.9 L348.7,311.9 Z" fill="#ff0000"/>
<rect x="229.8" y="131.5" width="6.8" height="10.1" fill="#f1fafc"/>
<rect x="229.8" y="121.5" width="6.8" height="10.1" fill="#e5f5f9"/>
<rect x="229.8" y="111.6" width="6.8" height="10.1" fill="#d4efec"/>
<rect x="229.8" y="101.6" width="6.8" height="10.1" fill="#bce6dd"/>
<rect x="229.8" y="91.7" width="6.8" height="10.1" fill="#98d8c9"/>
<rect x="229.8" y="81.7" width="6.8" height="10.1" fill="#77c9b0"/>
<rect x="229.8" y="71.7" width="6.8" height="10.1" fill="#5abb95"/>
<rect x="229.8" y="61.8" width="6.8" height="10.1" fill="#40ad75"/>
<rect x="229.8" y="51.8" width="6.8" height="10.1" fill="#2d9655"/>
<rect x="229.8" y="41.9" width="6.8" height="10.1" fill="#17813d"/>
<rect x="229.8" y="31.9" width="6.8" height="10.1" fill="#006c2c"/>
<rect x="229.8" y="21.9" width="6.8" height="10.1" fill="#005120"/>
<path d="M229.8,22.1 L233.2,16 L236.6,22.1 Z" fill="#00441b"/>
<path d="M229.8,141.4 L233.2,147.5 L236.6,141.4 Z" fill="#f7fcfd"/>
<path d="M229.8,22 L233.2,16 L236.6,22 L236.6,141.5 L233.2,147.5 L229.8,141.5 Z" fill="none" stroke="#9a9a9a" stroke-width="0.35"/>
<line x1="236.6" y1="141.5" x2="238" y2="141.5" stroke="#000" stroke-width="0.5"/>
<text transform="translate(238.9,144.6) scale(0.88,1)" class="t">0</text>
<line x1="236.6" y1="121.6" x2="238" y2="121.6" stroke="#000" stroke-width="0.5"/>
<text transform="translate(238.9,124.7) scale(0.88,1)" class="t">8</text>
<line x1="236.6" y1="101.7" x2="238" y2="101.7" stroke="#000" stroke-width="0.5"/>
<text transform="translate(238.9,104.8) scale(0.88,1)" class="t">16</text>
<line x1="236.6" y1="81.8" x2="238" y2="81.8" stroke="#000" stroke-width="0.5"/>
<text transform="translate(238.9,84.8) scale(0.88,1)" class="t">24</text>
<line x1="236.6" y1="61.8" x2="238" y2="61.8" stroke="#000" stroke-width="0.5"/>
<text transform="translate(238.9,64.9) scale(0.88,1)" class="t">32</text>
<line x1="236.6" y1="41.9" x2="238" y2="41.9" stroke="#000" stroke-width="0.5"/>
<text transform="translate(238.9,45) scale(0.88,1)" class="t">40</text>
<line x1="236.6" y1="22" x2="238" y2="22" stroke="#000" stroke-width="0.5"/>
<text transform="translate(238.9,25.1) scale(0.88,1)" class="t">48</text>
<text transform="translate(227.2,20.6) rotate(-90)" class="cb" text-anchor="end" textLength="46" lengthAdjust="spacingAndGlyphs">Speed (ms<tspan dy="-2.4" font-size="4.6">-1</tspan><tspan dy="2.4">)</tspan></text>
<rect x="472" y="129.5" width="6.8" height="12" fill="#124984"/>
<rect x="472" y="117.5" width="6.8" height="12" fill="#327cb7"/>
<rect x="472" y="105.6" width="6.8" height="12" fill="#6bacd1"/>
<rect x="472" y="93.7" width="6.8" height="12" fill="#b1d5e7"/>
<rect x="472" y="81.7" width="6.8" height="12" fill="#e4eef4"/>
<rect x="472" y="69.8" width="6.8" height="12" fill="#fae9df"/>
<rect x="472" y="57.8" width="6.8" height="12" fill="#f8bfa4"/>
<rect x="472" y="45.9" width="6.8" height="12" fill="#e48066"/>
<rect x="472" y="33.9" width="6.8" height="12" fill="#c43b3c"/>
<rect x="472" y="21.9" width="6.8" height="12" fill="#8a0b25"/>
<path d="M472,22.1 L475.4,16 L478.8,22.1 Z" fill="#67001f"/>
<path d="M472,141.4 L475.4,147.5 L478.8,141.4 Z" fill="#053061"/>
<path d="M472,22 L475.4,16 L478.8,22 L478.8,141.5 L475.4,147.5 L472,141.5 Z" fill="none" stroke="#9a9a9a" stroke-width="0.35"/>
<line x1="478.8" y1="141.5" x2="480.2" y2="141.5" stroke="#000" stroke-width="0.5"/>
<text transform="translate(481.1,144.6) scale(0.88,1)" class="t">-26</text>
<line x1="478.8" y1="117.6" x2="480.2" y2="117.6" stroke="#000" stroke-width="0.5"/>
<text transform="translate(481.1,120.7) scale(0.88,1)" class="t">-22</text>
<line x1="478.8" y1="93.7" x2="480.2" y2="93.7" stroke="#000" stroke-width="0.5"/>
<text transform="translate(481.1,96.8) scale(0.88,1)" class="t">-18</text>
<line x1="478.8" y1="69.8" x2="480.2" y2="69.8" stroke="#000" stroke-width="0.5"/>
<text transform="translate(481.1,72.9) scale(0.88,1)" class="t">-14</text>
<line x1="478.8" y1="45.9" x2="480.2" y2="45.9" stroke="#000" stroke-width="0.5"/>
<text transform="translate(481.1,49) scale(0.88,1)" class="t">-10</text>
<line x1="478.8" y1="22" x2="480.2" y2="22" stroke="#000" stroke-width="0.5"/>
<text transform="translate(481.1,25.1) scale(0.88,1)" class="t">-6</text>
<text transform="translate(469.4,20.6) rotate(-90)" class="cb" text-anchor="end" textLength="66" lengthAdjust="spacingAndGlyphs">Temperature (°C)</text>
<rect x="229.8" y="288.5" width="6.8" height="12" fill="#124984"/>
<rect x="229.8" y="276.6" width="6.8" height="12" fill="#327cb7"/>
<rect x="229.8" y="264.7" width="6.8" height="12" fill="#6bacd1"/>
<rect x="229.8" y="252.7" width="6.8" height="12" fill="#b1d5e7"/>
<rect x="229.8" y="240.8" width="6.8" height="12" fill="#e4eef4"/>
<rect x="229.8" y="228.9" width="6.8" height="12" fill="#fae9df"/>
<rect x="229.8" y="216.9" width="6.8" height="12" fill="#f8bfa4"/>
<rect x="229.8" y="205" width="6.8" height="12" fill="#e48066"/>
<rect x="229.8" y="193.1" width="6.8" height="12" fill="#c43b3c"/>
<rect x="229.8" y="181.1" width="6.8" height="12" fill="#8a0b25"/>
<path d="M229.8,181.2 L233.2,175.6 L236.6,181.2 Z" fill="#67001f"/>
<path d="M229.8,300.4 L233.2,306.2 L236.6,300.4 Z" fill="#053061"/>
<path d="M229.8,181.2 L233.2,175.6 L236.6,181.2 L236.6,300.5 L233.2,306.2 L229.8,300.5 Z" fill="none" stroke="#9a9a9a" stroke-width="0.35"/>
<line x1="236.6" y1="288.6" x2="238" y2="288.6" stroke="#000" stroke-width="0.5"/>
<text transform="translate(238.9,291.7) scale(0.88,1)" class="t">-1.6</text>
<line x1="236.6" y1="264.7" x2="238" y2="264.7" stroke="#000" stroke-width="0.5"/>
<text transform="translate(238.9,267.8) scale(0.88,1)" class="t">-0.8</text>
<line x1="236.6" y1="240.8" x2="238" y2="240.8" stroke="#000" stroke-width="0.5"/>
<text transform="translate(238.9,243.9) scale(0.88,1)" class="t">0.0</text>
<line x1="236.6" y1="217" x2="238" y2="217" stroke="#000" stroke-width="0.5"/>
<text transform="translate(238.9,220.1) scale(0.88,1)" class="t">0.8</text>
<line x1="236.6" y1="193.1" x2="238" y2="193.1" stroke="#000" stroke-width="0.5"/>
<text transform="translate(238.9,196.2) scale(0.88,1)" class="t">1.6</text>
<text transform="translate(227.2,179.8) rotate(-90)" class="cb" text-anchor="end" textLength="46" lengthAdjust="spacingAndGlyphs">Speed (ms<tspan dy="-2.4" font-size="4.6">-1</tspan><tspan dy="2.4">)</tspan></text>
<rect x="472" y="280.6" width="6.8" height="20" fill="#e7f0fa"/>
<rect x="472" y="260.7" width="6.8" height="20" fill="#c6dbef"/>
<rect x="472" y="240.8" width="6.8" height="20" fill="#8dc1dd"/>
<rect x="472" y="220.9" width="6.8" height="20" fill="#4f9bcb"/>
<rect x="472" y="201" width="6.8" height="20" fill="#2070b4"/>
<rect x="472" y="181.1" width="6.8" height="20" fill="#08468b"/>
<path d="M472,181.2 L475.4,175.6 L478.8,181.2 Z" fill="#08306b"/>
<path d="M472,300.4 L475.4,306.2 L478.8,300.4 Z" fill="#f7fbff"/>
<path d="M472,181.2 L475.4,175.6 L478.8,181.2 L478.8,300.5 L475.4,306.2 L472,300.5 Z" fill="none" stroke="#9a9a9a" stroke-width="0.35"/>
<line x1="478.8" y1="300.5" x2="480.2" y2="300.5" stroke="#000" stroke-width="0.5"/>
<text transform="translate(481.1,303.6) scale(0.88,1)" class="t"><tspan font-size="9.4">10</tspan><tspan dy="-3.2" font-size="5.4">-6</tspan></text>
<line x1="478.8" y1="260.7" x2="480.2" y2="260.7" stroke="#000" stroke-width="0.5"/>
<text transform="translate(481.1,263.8) scale(0.88,1)" class="t"><tspan font-size="9.4">10</tspan><tspan dy="-3.2" font-size="5.4">-5</tspan></text>
<line x1="478.8" y1="221" x2="480.2" y2="221" stroke="#000" stroke-width="0.5"/>
<text transform="translate(481.1,224.1) scale(0.88,1)" class="t"><tspan font-size="9.4">10</tspan><tspan dy="-3.2" font-size="5.4">-4</tspan></text>
<line x1="478.8" y1="181.2" x2="480.2" y2="181.2" stroke="#000" stroke-width="0.5"/>
<text transform="translate(481.1,184.3) scale(0.88,1)" class="t"><tspan font-size="9.4">10</tspan><tspan dy="-3.2" font-size="5.4">-3</tspan></text>
<text transform="translate(469.4,179.8) rotate(-90)" class="cb" text-anchor="end" textLength="80" lengthAdjust="spacingAndGlyphs">Mixing Ratio (kg kg<tspan dy="-2.4" font-size="4.6">-1</tspan><tspan dy="2.4">)</tspan></text>
<text x="32.4" y="12.7" class="ti" textLength="81" lengthAdjust="spacingAndGlyphs">WS &amp; Stream Line</text>
<text x="274.6" y="12.7" class="ti" textLength="46" lengthAdjust="spacingAndGlyphs">T &amp; Theta</text>
<text x="32.4" y="171.6" class="ti" textLength="9.6" lengthAdjust="spacingAndGlyphs">W</text>
<text x="274.8" y="171.6" class="ti" textLength="96" lengthAdjust="spacingAndGlyphs">BS Mass Mixing Ratio</text>
<text x="36.6" y="27.7" class="pl" textLength="12.2" lengthAdjust="spacingAndGlyphs">(a)</text>
<text x="278.9" y="27.7" class="pl" textLength="12.2" lengthAdjust="spacingAndGlyphs">(b)</text>
<text x="36.6" y="186.1" class="pl" textLength="12.2" lengthAdjust="spacingAndGlyphs">(c)</text>
<text x="278.9" y="186.1" class="pl" textLength="12.2" lengthAdjust="spacingAndGlyphs">(d)</text>
<text transform="translate(11.2,81.8) rotate(-90)" class="ax" text-anchor="middle" textLength="40" lengthAdjust="spacingAndGlyphs">Height (km)</text>
<text transform="translate(11.2,240.1) rotate(-90)" class="ax" text-anchor="middle" textLength="40" lengthAdjust="spacingAndGlyphs">Height (km)</text>
<text x="124.4" y="321.9" class="ax" text-anchor="middle" textLength="50" lengthAdjust="spacingAndGlyphs">Distance (km)</text>
<text x="359.5" y="321.9" class="ax" text-anchor="middle" textLength="50" lengthAdjust="spacingAndGlyphs">Distance (km)</text>
</svg></body></html>
